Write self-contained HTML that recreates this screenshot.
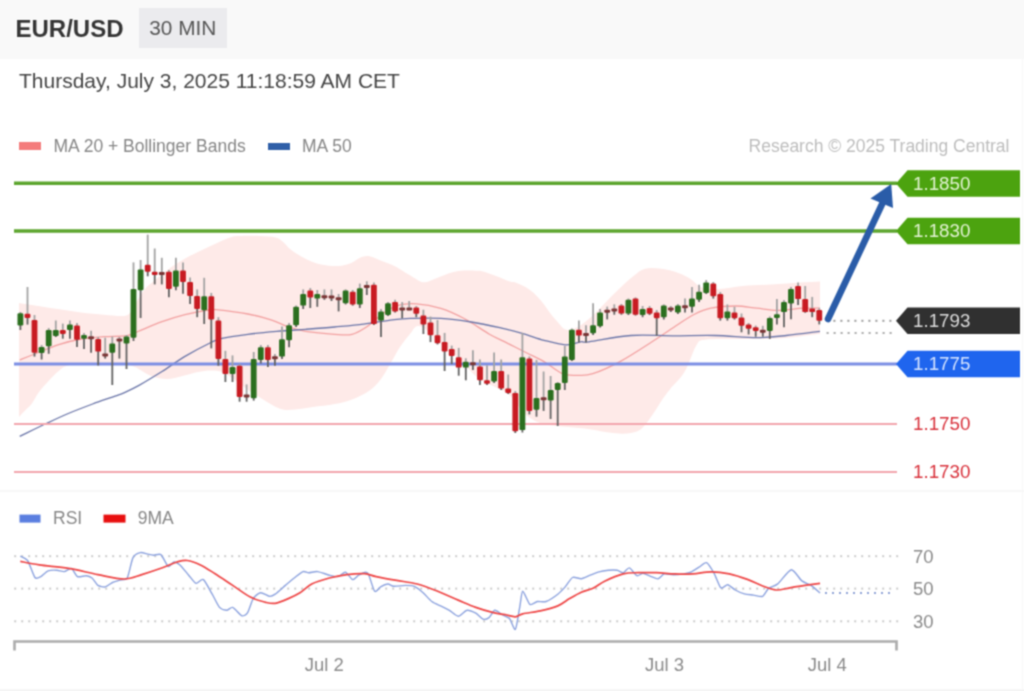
<!DOCTYPE html>
<html><head><meta charset="utf-8"><title>EUR/USD 30 MIN</title>
<style>
html,body{margin:0;padding:0;background:#fff;width:1024px;height:691px;overflow:hidden;position:relative}
.hdr{position:absolute;left:0;top:0;width:1024px;height:59px;background:#f9f9f9}
</style></head><body>
<div class="hdr"></div>

<svg width="1024" height="691" viewBox="0 0 1024 691" style="position:absolute;left:0;top:0">
<defs><filter id="bl" x="0" y="0" width="1" height="1" color-interpolation-filters="sRGB"><feConvolveMatrix order="3" kernelMatrix="0.0484 0.1232 0.0484 0.1232 0.3136 0.1232 0.0484 0.1232 0.0484" edgeMode="duplicate" preserveAlpha="true"/></filter><style>
text{font-family:"Liberation Sans",Arial,sans-serif}
.lab{font-size:18.8px}
.leg{font-size:17.5px;fill:#868686}
.ax{font-size:18.5px;fill:#8a8a8a}
</style></defs><g filter="url(#bl)"><rect x="0" y="0" width="1024" height="59" fill="#f9f9f9"/><rect x="0" y="59" width="1024" height="632" fill="#fff"/>
<text x="15.5" y="36.8" style="font-size:24px;font-weight:bold" fill="#353535">EUR/USD</text>
<rect x="139" y="8" width="88" height="40" fill="#ebebee"/>
<text x="149.3" y="35.4" style="font-size:20.8px" fill="#565656">30 MIN</text>
<text x="19" y="87.5" style="font-size:21px" fill="#454545">Thursday, July 3, 2025 11:18:59 AM CET</text>
<rect x="19" y="142" width="22" height="8" fill="#f47c7c"/>
<text x="53.5" y="152" class="leg">MA 20 + Bollinger Bands</text>
<rect x="268" y="143" width="22" height="7" fill="#2f5fa8"/>
<text x="302" y="152" class="leg">MA 50</text>
<text x="1009.5" y="152" class="leg" text-anchor="end" style="fill:#bdbdbd">Research © 2025 Trading Central</text>

<path d="M19.0,303.0 C21.6,303.4 28.2,304.5 34.7,305.5 C41.2,306.5 50.2,307.9 57.9,309.0 C65.6,310.1 73.3,311.4 81.0,312.4 C88.7,313.3 97.0,314.1 104.0,314.7 C111.0,315.3 118.4,316.3 122.7,316.0 C127.0,315.7 127.6,315.5 130.0,313.0 C132.4,310.5 134.5,305.0 137.0,301.0 C139.5,297.0 142.0,292.5 145.0,289.0 C148.0,285.5 150.8,283.5 155.0,280.0 C159.2,276.5 164.8,271.7 170.0,268.0 C175.2,264.3 181.0,260.8 186.0,258.0 C191.0,255.2 195.2,253.3 200.0,251.0 C204.8,248.7 209.7,246.3 215.0,244.0 C220.3,241.7 227.1,238.3 231.6,237.0 C236.1,235.7 237.4,236.2 242.0,236.0 C246.6,235.8 253.8,235.8 259.4,236.0 C265.0,236.2 271.6,236.5 275.6,237.5 C279.6,238.5 280.8,240.1 283.4,242.2 C286.0,244.3 287.4,247.1 291.3,250.0 C295.2,252.9 301.7,256.9 306.9,259.4 C312.1,261.9 317.3,263.7 322.5,264.8 C327.7,265.9 333.4,266.2 338.1,266.0 C342.8,265.8 347.0,264.7 350.6,263.3 C354.2,261.9 356.9,259.0 360.0,257.8 C363.1,256.6 365.8,255.7 369.4,256.2 C373.0,256.8 377.7,259.4 381.9,261.0 C386.1,262.6 391.3,264.6 394.4,266.0 C397.5,267.4 397.6,267.8 400.3,269.4 C403.0,271.0 407.0,273.5 410.4,275.5 C413.8,277.5 417.8,280.4 420.5,281.5 C423.2,282.6 424.1,282.5 426.6,282.0 C429.1,281.5 432.5,279.8 435.7,278.5 C438.9,277.2 442.5,275.6 445.9,274.4 C449.3,273.2 452.6,272.0 456.0,271.4 C459.4,270.8 462.5,270.7 466.0,270.6 C469.5,270.5 474.2,270.7 477.0,270.8 C479.8,270.9 479.8,270.6 483.0,271.5 C486.2,272.4 491.7,274.4 496.0,276.0 C500.3,277.6 505.7,280.1 509.0,281.2 C512.3,282.4 512.3,281.3 515.6,282.6 C518.9,283.9 524.9,286.6 528.6,289.0 C532.3,291.4 535.1,294.3 537.7,296.9 C540.3,299.5 542.0,301.9 544.2,304.7 C546.4,307.5 548.3,310.8 550.7,313.8 C553.1,316.9 556.0,320.4 558.5,323.0 C561.0,325.6 562.6,328.7 565.5,329.5 C568.4,330.3 571.5,329.9 575.6,328.0 C579.7,326.1 585.2,322.0 590.0,317.9 C594.8,313.8 599.8,308.2 604.6,303.4 C609.4,298.6 614.2,293.6 619.0,289.0 C623.8,284.4 629.2,279.4 633.5,276.0 C637.8,272.6 640.3,269.9 645.0,268.7 C649.7,267.5 655.9,268.1 661.6,268.8 C667.3,269.6 674.2,271.5 679.0,273.2 C683.8,274.9 686.7,276.6 690.5,279.0 C694.3,281.4 697.2,285.9 702.0,287.6 C706.8,289.3 712.6,289.3 719.4,289.0 C726.2,288.7 733.9,286.8 742.6,286.0 C751.3,285.2 761.9,285.1 771.5,284.5 C781.1,283.9 792.4,283.0 800.5,282.5 C808.6,282.0 816.8,281.7 820.0,281.5 L820.0,334.0 C819.6,334.0 824.6,333.2 817.9,334.0 C811.2,334.8 793.0,337.7 780.0,338.5 C767.0,339.3 752.5,338.8 740.0,339.0 C727.5,339.2 712.3,338.6 705.0,339.7 C697.7,340.8 699.7,340.2 696.3,345.5 C692.9,350.8 689.1,364.4 684.7,371.6 C680.4,378.9 674.0,384.3 670.2,389.0 C666.4,393.7 664.9,395.8 662.0,400.0 C659.1,404.2 656.6,409.1 653.0,414.0 C649.4,418.9 645.3,426.1 640.6,429.4 C635.9,432.6 630.2,433.0 625.0,433.5 C619.8,434.0 616.1,433.3 609.4,432.5 C602.7,431.7 592.8,429.5 585.0,428.5 C577.2,427.5 570.0,427.4 562.5,426.5 C555.0,425.6 546.2,425.1 540.0,423.0 C533.8,420.9 529.2,417.7 525.0,414.0 C520.8,410.3 518.0,404.5 515.0,401.0 C512.0,397.5 510.5,395.5 506.8,393.0 C503.1,390.5 497.9,388.6 493.0,386.0 C488.1,383.4 483.1,382.0 477.3,377.3 C471.5,372.6 464.6,364.4 458.0,358.0 C451.4,351.6 443.9,344.3 437.4,339.0 C430.9,333.7 423.6,326.8 419.0,326.0 C414.4,325.2 413.2,330.5 410.0,334.0 C406.8,337.5 402.9,342.7 400.0,347.0 C397.1,351.3 395.7,354.7 392.5,360.0 C389.3,365.3 384.9,373.9 381.0,379.0 C377.1,384.1 374.1,387.3 369.3,390.7 C364.5,394.1 357.8,397.2 352.0,399.4 C346.2,401.6 341.1,402.7 334.6,404.0 C328.1,405.3 319.4,406.1 312.8,407.0 C306.2,407.9 300.5,409.2 295.0,409.5 C289.5,409.8 285.7,410.6 280.0,408.7 C274.3,406.8 265.9,401.1 260.6,398.0 C255.3,394.9 252.3,393.0 248.0,390.0 C243.7,387.0 239.3,383.0 235.0,380.0 C230.7,377.0 226.1,373.6 222.0,372.0 C217.9,370.4 214.6,370.5 210.6,370.5 C206.6,370.5 202.7,371.1 198.0,372.0 C193.3,372.9 187.7,374.8 182.5,376.0 C177.3,377.2 172.2,379.0 167.0,379.0 C161.8,379.0 156.2,377.9 151.0,376.0 C145.8,374.1 139.6,369.2 135.6,367.3 C131.6,365.4 130.3,365.1 127.0,364.5 C123.7,363.9 119.6,363.6 115.8,363.4 C112.0,363.1 107.9,363.0 104.0,363.0 C100.1,363.0 97.4,363.2 92.6,363.4 C87.8,363.6 79.6,363.7 75.0,364.2 C70.4,364.7 67.9,365.2 65.0,366.5 C62.1,367.8 60.5,369.5 57.8,371.8 C55.1,374.1 52.1,377.1 49.0,380.5 C45.9,383.9 41.9,388.1 39.0,392.0 C36.1,395.9 34.0,400.7 31.7,403.7 C29.4,406.7 27.6,407.8 25.5,410.0 C23.4,412.2 20.1,415.8 19.0,417.0 Z" fill="#feeae8"/>
<path d="M19.7,360.0 C22.2,359.0 28.3,356.5 34.7,354.0 C41.1,351.5 50.2,347.3 57.9,344.8 C65.6,342.3 73.3,340.4 81.0,339.0 C88.7,337.6 96.3,337.3 104.0,336.7 C111.7,336.1 121.2,336.6 127.0,335.6 C132.8,334.7 133.2,333.3 139.0,331.0 C144.8,328.7 154.3,324.4 162.0,321.7 C169.7,319.0 177.3,316.6 185.0,314.7 C192.7,312.8 203.2,310.8 208.4,310.0 C213.6,309.2 209.4,309.0 216.0,309.7 C222.6,310.4 238.7,312.3 247.9,314.0 C257.1,315.7 264.2,317.6 271.0,319.8 C277.8,322.0 282.6,325.1 288.4,327.0 C294.2,328.9 298.0,330.2 305.7,331.4 C313.4,332.6 326.9,333.8 334.6,334.3 C342.3,334.8 346.7,335.5 352.0,334.3 C357.3,333.1 362.7,329.4 366.5,327.0 C370.3,324.6 371.9,322.3 375.0,319.8 C378.1,317.3 381.1,314.4 385.0,312.0 C388.9,309.6 392.9,306.7 398.2,305.3 C403.4,303.9 409.4,303.3 416.5,303.8 C423.6,304.3 432.7,305.9 440.8,308.4 C448.9,310.9 456.9,314.7 465.0,319.0 C473.1,323.3 482.3,330.1 489.4,334.2 C496.5,338.2 501.6,340.2 507.7,343.3 C513.8,346.4 519.9,349.4 525.9,352.5 C531.9,355.6 537.9,358.1 544.0,361.6 C550.1,365.1 556.8,371.4 562.4,373.7 C568.0,376.0 572.5,375.3 577.6,375.3 C582.7,375.3 585.7,376.0 592.8,373.7 C599.9,371.4 610.1,366.9 620.0,361.6 C629.9,356.3 642.5,347.9 652.0,341.8 C661.5,335.7 670.2,329.6 677.2,325.0 C684.2,320.4 688.4,317.3 694.0,314.5 C699.6,311.7 703.8,309.6 710.8,308.2 C717.8,306.8 728.3,306.0 736.0,306.0 C743.7,306.0 750.0,307.5 757.0,308.2 C764.0,308.9 770.3,310.3 778.0,310.3 C785.7,310.3 796.2,308.6 803.2,308.2 C810.2,307.8 817.2,308.2 820.0,308.2" fill="none" stroke="#f2a0a0" stroke-width="1.3"/>
<path d="M19.7,436.3 C24.1,434.2 38.0,427.4 46.3,423.5 C54.6,419.6 61.8,416.2 69.5,413.0 C77.2,409.8 84.9,406.9 92.6,404.0 C100.3,401.1 110.4,397.8 115.8,395.8 C121.2,393.9 121.1,394.0 125.0,392.3 C128.9,390.6 132.8,388.9 139.0,385.4 C145.2,381.9 154.3,376.3 162.0,371.5 C169.7,366.7 177.0,361.1 185.0,356.4 C193.0,351.6 203.8,346.0 210.0,343.0 C216.2,340.0 215.7,339.8 222.0,338.3 C228.3,336.9 238.8,335.5 247.9,334.3 C257.0,333.1 267.2,332.2 276.8,331.4 C286.4,330.6 296.1,330.0 305.7,329.3 C315.3,328.6 325.0,327.9 334.6,327.0 C344.2,326.1 354.0,325.3 363.6,324.1 C373.2,322.9 384.7,320.8 392.5,319.8 C400.3,318.9 402.3,318.6 410.4,318.4 C418.4,318.2 430.7,317.8 440.8,318.4 C450.9,319.0 461.1,320.4 471.2,322.0 C481.3,323.6 493.0,326.2 501.6,328.1 C510.2,330.0 515.8,331.6 522.9,333.6 C530.0,335.6 536.9,338.4 544.0,340.3 C551.1,342.2 559.3,344.6 565.4,344.9 C571.5,345.1 576.7,342.3 580.6,341.8 C584.5,341.3 580.6,342.9 589.0,341.8 C597.4,340.8 617.0,336.5 631.0,335.5 C645.0,334.5 659.0,335.8 673.0,335.8 C687.0,335.8 701.0,335.2 715.0,335.5 C729.0,335.8 745.1,337.6 757.0,337.6 C768.9,337.6 775.9,336.6 786.4,335.5 C796.9,334.4 814.4,332.0 820.0,331.3" fill="none" stroke="#6a75a8" stroke-width="1.3"/>

<line x1="14" y1="183.3" x2="897" y2="183.3" stroke="#5ca52e" stroke-width="3.4"/>
<line x1="14" y1="231" x2="897" y2="231" stroke="#5ca52e" stroke-width="3.4"/>
<line x1="14" y1="364" x2="897" y2="364" stroke="#7a8de4" stroke-width="2.9"/>
<line x1="14" y1="424" x2="897" y2="424" stroke="#f2a5ad" stroke-width="2"/>
<line x1="14" y1="472" x2="897" y2="472" stroke="#f2a5ad" stroke-width="2"/>

<line x1="20.4" y1="312.0" x2="20.4" y2="319.4" stroke="#a2a2a2" stroke-width="1.8"/>
<line x1="20.4" y1="319.4" x2="20.4" y2="330.0" stroke="#616161" stroke-width="1.8"/>
<rect x="17.5" y="313.3" width="5.8" height="12.2" fill="#2b6f1f" rx="1.2"/>
<line x1="27.5" y1="287.0" x2="27.5" y2="315.9" stroke="#a2a2a2" stroke-width="1.8"/>
<line x1="27.5" y1="315.9" x2="27.5" y2="324.6" stroke="#616161" stroke-width="1.8"/>
<rect x="24.6" y="313.7" width="5.8" height="4.3" fill="#c81b22" rx="1.2"/>
<line x1="34.5" y1="315.0" x2="34.5" y2="336.4" stroke="#a2a2a2" stroke-width="1.8"/>
<line x1="34.5" y1="336.4" x2="34.5" y2="356.6" stroke="#616161" stroke-width="1.8"/>
<rect x="31.6" y="320.0" width="5.8" height="32.8" fill="#c81b22" rx="1.2"/>
<line x1="41.6" y1="345.0" x2="41.6" y2="350.0" stroke="#a2a2a2" stroke-width="1.8"/>
<line x1="41.6" y1="350.0" x2="41.6" y2="359.5" stroke="#616161" stroke-width="1.8"/>
<rect x="38.7" y="347.0" width="5.8" height="6.0" fill="#2b6f1f" rx="1.2"/>
<line x1="48.7" y1="328.0" x2="48.7" y2="338.1" stroke="#a2a2a2" stroke-width="1.8"/>
<line x1="48.7" y1="338.1" x2="48.7" y2="353.8" stroke="#616161" stroke-width="1.8"/>
<rect x="45.8" y="330.0" width="5.8" height="16.3" fill="#2b6f1f" rx="1.2"/>
<line x1="55.8" y1="320.5" x2="55.8" y2="333.0" stroke="#a2a2a2" stroke-width="1.8"/>
<line x1="55.8" y1="333.0" x2="55.8" y2="337.0" stroke="#616161" stroke-width="1.8"/>
<rect x="52.9" y="330.0" width="5.8" height="6.0" fill="#2b6f1f" rx="1.2"/>
<line x1="62.8" y1="323.6" x2="62.8" y2="332.0" stroke="#a2a2a2" stroke-width="1.8"/>
<line x1="62.8" y1="332.0" x2="62.8" y2="338.7" stroke="#616161" stroke-width="1.8"/>
<rect x="59.9" y="330.0" width="5.8" height="4.0" fill="#c81b22" rx="1.2"/>
<line x1="69.9" y1="320.5" x2="69.9" y2="327.3" stroke="#a2a2a2" stroke-width="1.8"/>
<line x1="69.9" y1="327.3" x2="69.9" y2="338.7" stroke="#616161" stroke-width="1.8"/>
<rect x="67.0" y="324.6" width="5.8" height="5.4" fill="#2b6f1f" rx="1.2"/>
<line x1="77.0" y1="323.0" x2="77.0" y2="332.6" stroke="#a2a2a2" stroke-width="1.8"/>
<line x1="77.0" y1="332.6" x2="77.0" y2="347.0" stroke="#616161" stroke-width="1.8"/>
<rect x="74.1" y="325.5" width="5.8" height="14.2" fill="#c81b22" rx="1.2"/>
<line x1="84.0" y1="333.0" x2="84.0" y2="336.9" stroke="#a2a2a2" stroke-width="1.8"/>
<line x1="84.0" y1="336.9" x2="84.0" y2="349.0" stroke="#616161" stroke-width="1.8"/>
<rect x="81.1" y="335.0" width="5.8" height="3.7" fill="#2b6f1f" rx="1.2"/>
<line x1="91.1" y1="330.8" x2="91.1" y2="337.8" stroke="#a2a2a2" stroke-width="1.8"/>
<line x1="91.1" y1="337.8" x2="91.1" y2="352.8" stroke="#616161" stroke-width="1.8"/>
<rect x="88.2" y="336.3" width="5.8" height="3.0" fill="#7a3434" rx="1"/>
<line x1="98.2" y1="337.0" x2="98.2" y2="345.2" stroke="#a2a2a2" stroke-width="1.8"/>
<line x1="98.2" y1="345.2" x2="98.2" y2="365.5" stroke="#616161" stroke-width="1.8"/>
<rect x="95.3" y="338.9" width="5.8" height="12.7" fill="#c81b22" rx="1.2"/>
<line x1="105.2" y1="337.7" x2="105.2" y2="355.0" stroke="#a2a2a2" stroke-width="1.8"/>
<line x1="105.2" y1="355.0" x2="105.2" y2="358.6" stroke="#616161" stroke-width="1.8"/>
<rect x="102.3" y="353.5" width="5.8" height="3.0" fill="#7a3434" rx="1"/>
<line x1="112.3" y1="336.6" x2="112.3" y2="348.1" stroke="#a2a2a2" stroke-width="1.8"/>
<line x1="112.3" y1="348.1" x2="112.3" y2="385.0" stroke="#616161" stroke-width="1.8"/>
<rect x="109.4" y="343.5" width="5.8" height="9.3" fill="#2b6f1f" rx="1.2"/>
<line x1="119.4" y1="337.0" x2="119.4" y2="339.9" stroke="#a2a2a2" stroke-width="1.8"/>
<line x1="119.4" y1="339.9" x2="119.4" y2="358.6" stroke="#616161" stroke-width="1.8"/>
<rect x="116.5" y="338.4" width="5.8" height="3.0" fill="#7a3434" rx="1"/>
<line x1="126.5" y1="335.0" x2="126.5" y2="340.1" stroke="#a2a2a2" stroke-width="1.8"/>
<line x1="126.5" y1="340.1" x2="126.5" y2="369.0" stroke="#616161" stroke-width="1.8"/>
<rect x="123.6" y="336.6" width="5.8" height="6.9" fill="#2b6f1f" rx="1.2"/>
<line x1="133.5" y1="262.4" x2="133.5" y2="313.4" stroke="#a2a2a2" stroke-width="1.8"/>
<line x1="133.5" y1="313.4" x2="133.5" y2="341.0" stroke="#616161" stroke-width="1.8"/>
<rect x="130.6" y="289.0" width="5.8" height="48.7" fill="#2b6f1f" rx="1.2"/>
<line x1="140.6" y1="260.0" x2="140.6" y2="279.8" stroke="#a2a2a2" stroke-width="1.8"/>
<line x1="140.6" y1="279.8" x2="140.6" y2="318.0" stroke="#616161" stroke-width="1.8"/>
<rect x="137.7" y="269.4" width="5.8" height="20.8" fill="#2b6f1f" rx="1.2"/>
<line x1="147.7" y1="234.6" x2="147.7" y2="268.2" stroke="#a2a2a2" stroke-width="1.8"/>
<line x1="147.7" y1="268.2" x2="147.7" y2="276.3" stroke="#616161" stroke-width="1.8"/>
<rect x="144.8" y="264.7" width="5.8" height="7.0" fill="#c81b22" rx="1.2"/>
<line x1="154.7" y1="248.5" x2="154.7" y2="273.4" stroke="#a2a2a2" stroke-width="1.8"/>
<line x1="154.7" y1="273.4" x2="154.7" y2="284.4" stroke="#616161" stroke-width="1.8"/>
<rect x="151.8" y="271.7" width="5.8" height="3.3" fill="#c81b22" rx="1.2"/>
<line x1="161.8" y1="257.8" x2="161.8" y2="273.4" stroke="#a2a2a2" stroke-width="1.8"/>
<line x1="161.8" y1="273.4" x2="161.8" y2="284.4" stroke="#616161" stroke-width="1.8"/>
<rect x="158.9" y="271.9" width="5.8" height="3.0" fill="#7a3434" rx="1"/>
<line x1="168.9" y1="270.0" x2="168.9" y2="280.4" stroke="#a2a2a2" stroke-width="1.8"/>
<line x1="168.9" y1="280.4" x2="168.9" y2="297.2" stroke="#616161" stroke-width="1.8"/>
<rect x="166.0" y="271.7" width="5.8" height="17.3" fill="#c81b22" rx="1.2"/>
<line x1="175.9" y1="257.8" x2="175.9" y2="278.6" stroke="#a2a2a2" stroke-width="1.8"/>
<line x1="175.9" y1="278.6" x2="175.9" y2="290.2" stroke="#616161" stroke-width="1.8"/>
<rect x="173.0" y="270.5" width="5.8" height="16.3" fill="#2b6f1f" rx="1.2"/>
<line x1="183.0" y1="262.4" x2="183.0" y2="276.2" stroke="#a2a2a2" stroke-width="1.8"/>
<line x1="183.0" y1="276.2" x2="183.0" y2="293.7" stroke="#616161" stroke-width="1.8"/>
<rect x="180.1" y="270.5" width="5.8" height="11.5" fill="#c81b22" rx="1.2"/>
<line x1="190.1" y1="277.5" x2="190.1" y2="289.0" stroke="#a2a2a2" stroke-width="1.8"/>
<line x1="190.1" y1="289.0" x2="190.1" y2="304.0" stroke="#616161" stroke-width="1.8"/>
<rect x="187.2" y="282.0" width="5.8" height="14.0" fill="#c81b22" rx="1.2"/>
<line x1="197.2" y1="289.4" x2="197.2" y2="302.5" stroke="#a2a2a2" stroke-width="1.8"/>
<line x1="197.2" y1="302.5" x2="197.2" y2="317.2" stroke="#616161" stroke-width="1.8"/>
<rect x="194.2" y="296.0" width="5.8" height="13.0" fill="#c81b22" rx="1.2"/>
<line x1="204.2" y1="277.8" x2="204.2" y2="303.2" stroke="#a2a2a2" stroke-width="1.8"/>
<line x1="204.2" y1="303.2" x2="204.2" y2="324.0" stroke="#616161" stroke-width="1.8"/>
<rect x="201.3" y="296.3" width="5.8" height="13.9" fill="#2b6f1f" rx="1.2"/>
<line x1="211.3" y1="292.9" x2="211.3" y2="307.9" stroke="#a2a2a2" stroke-width="1.8"/>
<line x1="211.3" y1="307.9" x2="211.3" y2="348.4" stroke="#616161" stroke-width="1.8"/>
<rect x="208.4" y="296.3" width="5.8" height="23.2" fill="#c81b22" rx="1.2"/>
<line x1="218.4" y1="317.2" x2="218.4" y2="339.8" stroke="#a2a2a2" stroke-width="1.8"/>
<line x1="218.4" y1="339.8" x2="218.4" y2="365.8" stroke="#616161" stroke-width="1.8"/>
<rect x="215.5" y="320.6" width="5.8" height="38.3" fill="#c81b22" rx="1.2"/>
<line x1="225.4" y1="350.8" x2="225.4" y2="366.4" stroke="#a2a2a2" stroke-width="1.8"/>
<line x1="225.4" y1="366.4" x2="225.4" y2="382.0" stroke="#616161" stroke-width="1.8"/>
<rect x="222.5" y="358.9" width="5.8" height="15.1" fill="#c81b22" rx="1.2"/>
<line x1="232.5" y1="355.4" x2="232.5" y2="370.5" stroke="#a2a2a2" stroke-width="1.8"/>
<line x1="232.5" y1="370.5" x2="232.5" y2="382.0" stroke="#616161" stroke-width="1.8"/>
<rect x="229.6" y="367.0" width="5.8" height="7.0" fill="#2b6f1f" rx="1.2"/>
<line x1="239.6" y1="364.0" x2="239.6" y2="381.4" stroke="#a2a2a2" stroke-width="1.8"/>
<line x1="239.6" y1="381.4" x2="239.6" y2="401.7" stroke="#616161" stroke-width="1.8"/>
<rect x="236.7" y="365.8" width="5.8" height="31.2" fill="#c81b22" rx="1.2"/>
<line x1="246.6" y1="384.4" x2="246.6" y2="396.0" stroke="#a2a2a2" stroke-width="1.8"/>
<line x1="246.6" y1="396.0" x2="246.6" y2="401.7" stroke="#616161" stroke-width="1.8"/>
<rect x="243.7" y="394.5" width="5.8" height="3.0" fill="#7a3434" rx="1"/>
<line x1="253.7" y1="352.0" x2="253.7" y2="378.6" stroke="#a2a2a2" stroke-width="1.8"/>
<line x1="253.7" y1="378.6" x2="253.7" y2="400.6" stroke="#616161" stroke-width="1.8"/>
<rect x="250.8" y="358.9" width="5.8" height="39.4" fill="#2b6f1f" rx="1.2"/>
<line x1="260.8" y1="345.0" x2="260.8" y2="353.6" stroke="#a2a2a2" stroke-width="1.8"/>
<line x1="260.8" y1="353.6" x2="260.8" y2="363.5" stroke="#616161" stroke-width="1.8"/>
<rect x="257.9" y="347.3" width="5.8" height="12.7" fill="#2b6f1f" rx="1.2"/>
<line x1="267.9" y1="345.0" x2="267.9" y2="353.6" stroke="#a2a2a2" stroke-width="1.8"/>
<line x1="267.9" y1="353.6" x2="267.9" y2="367.0" stroke="#616161" stroke-width="1.8"/>
<rect x="265.0" y="347.3" width="5.8" height="12.7" fill="#c81b22" rx="1.2"/>
<line x1="274.9" y1="354.0" x2="274.9" y2="357.8" stroke="#a2a2a2" stroke-width="1.8"/>
<line x1="274.9" y1="357.8" x2="274.9" y2="365.8" stroke="#616161" stroke-width="1.8"/>
<rect x="272.0" y="356.2" width="5.8" height="3.0" fill="#7a3434" rx="1"/>
<line x1="282.0" y1="326.4" x2="282.0" y2="347.9" stroke="#a2a2a2" stroke-width="1.8"/>
<line x1="282.0" y1="347.9" x2="282.0" y2="358.9" stroke="#616161" stroke-width="1.8"/>
<rect x="279.1" y="339.2" width="5.8" height="17.4" fill="#2b6f1f" rx="1.2"/>
<line x1="289.1" y1="323.0" x2="289.1" y2="332.8" stroke="#a2a2a2" stroke-width="1.8"/>
<line x1="289.1" y1="332.8" x2="289.1" y2="347.3" stroke="#616161" stroke-width="1.8"/>
<rect x="286.2" y="325.3" width="5.8" height="15.0" fill="#2b6f1f" rx="1.2"/>
<line x1="296.1" y1="305.6" x2="296.1" y2="316.1" stroke="#a2a2a2" stroke-width="1.8"/>
<line x1="296.1" y1="316.1" x2="296.1" y2="327.0" stroke="#616161" stroke-width="1.8"/>
<rect x="293.2" y="306.8" width="5.8" height="18.5" fill="#2b6f1f" rx="1.2"/>
<line x1="303.2" y1="289.4" x2="303.2" y2="299.8" stroke="#a2a2a2" stroke-width="1.8"/>
<line x1="303.2" y1="299.8" x2="303.2" y2="309.0" stroke="#616161" stroke-width="1.8"/>
<rect x="300.3" y="294.0" width="5.8" height="11.6" fill="#2b6f1f" rx="1.2"/>
<line x1="310.3" y1="288.0" x2="310.3" y2="294.0" stroke="#a2a2a2" stroke-width="1.8"/>
<line x1="310.3" y1="294.0" x2="310.3" y2="308.0" stroke="#616161" stroke-width="1.8"/>
<rect x="307.4" y="290.5" width="5.8" height="7.0" fill="#c81b22" rx="1.2"/>
<line x1="317.3" y1="290.0" x2="317.3" y2="296.3" stroke="#a2a2a2" stroke-width="1.8"/>
<line x1="317.3" y1="296.3" x2="317.3" y2="306.8" stroke="#616161" stroke-width="1.8"/>
<rect x="314.4" y="294.0" width="5.8" height="4.6" fill="#2b6f1f" rx="1.2"/>
<line x1="324.4" y1="289.4" x2="324.4" y2="296.8" stroke="#a2a2a2" stroke-width="1.8"/>
<line x1="324.4" y1="296.8" x2="324.4" y2="299.8" stroke="#616161" stroke-width="1.8"/>
<rect x="321.5" y="295.3" width="5.8" height="3.0" fill="#7a3434" rx="1"/>
<line x1="331.5" y1="289.4" x2="331.5" y2="297.0" stroke="#a2a2a2" stroke-width="1.8"/>
<line x1="331.5" y1="297.0" x2="331.5" y2="301.0" stroke="#616161" stroke-width="1.8"/>
<rect x="328.6" y="295.5" width="5.8" height="3.0" fill="#7a3434" rx="1"/>
<line x1="338.6" y1="294.0" x2="338.6" y2="298.8" stroke="#a2a2a2" stroke-width="1.8"/>
<line x1="338.6" y1="298.8" x2="338.6" y2="311.4" stroke="#616161" stroke-width="1.8"/>
<rect x="335.7" y="297.2" width="5.8" height="3.0" fill="#7a3434" rx="1"/>
<line x1="345.6" y1="289.4" x2="345.6" y2="296.9" stroke="#a2a2a2" stroke-width="1.8"/>
<line x1="345.6" y1="296.9" x2="345.6" y2="304.4" stroke="#616161" stroke-width="1.8"/>
<rect x="342.7" y="290.5" width="5.8" height="12.8" fill="#2b6f1f" rx="1.2"/>
<line x1="352.7" y1="290.0" x2="352.7" y2="298.0" stroke="#a2a2a2" stroke-width="1.8"/>
<line x1="352.7" y1="298.0" x2="352.7" y2="305.6" stroke="#616161" stroke-width="1.8"/>
<rect x="349.8" y="291.7" width="5.8" height="12.7" fill="#c81b22" rx="1.2"/>
<line x1="359.8" y1="283.6" x2="359.8" y2="296.3" stroke="#a2a2a2" stroke-width="1.8"/>
<line x1="359.8" y1="296.3" x2="359.8" y2="308.0" stroke="#616161" stroke-width="1.8"/>
<rect x="356.9" y="288.2" width="5.8" height="16.2" fill="#2b6f1f" rx="1.2"/>
<line x1="366.8" y1="281.3" x2="366.8" y2="286.4" stroke="#a2a2a2" stroke-width="1.8"/>
<line x1="366.8" y1="286.4" x2="366.8" y2="295.0" stroke="#616161" stroke-width="1.8"/>
<rect x="363.9" y="284.9" width="5.8" height="3.0" fill="#7a3434" rx="1"/>
<line x1="373.9" y1="282.4" x2="373.9" y2="304.4" stroke="#a2a2a2" stroke-width="1.8"/>
<line x1="373.9" y1="304.4" x2="373.9" y2="325.0" stroke="#616161" stroke-width="1.8"/>
<rect x="371.0" y="284.7" width="5.8" height="39.4" fill="#c81b22" rx="1.2"/>
<line x1="381.0" y1="309.0" x2="381.0" y2="316.0" stroke="#a2a2a2" stroke-width="1.8"/>
<line x1="381.0" y1="316.0" x2="381.0" y2="336.9" stroke="#616161" stroke-width="1.8"/>
<rect x="378.1" y="311.4" width="5.8" height="9.2" fill="#2b6f1f" rx="1.2"/>
<line x1="388.0" y1="302.1" x2="388.0" y2="309.1" stroke="#a2a2a2" stroke-width="1.8"/>
<line x1="388.0" y1="309.1" x2="388.0" y2="316.0" stroke="#616161" stroke-width="1.8"/>
<rect x="385.1" y="303.3" width="5.8" height="11.6" fill="#2b6f1f" rx="1.2"/>
<line x1="395.1" y1="299.8" x2="395.1" y2="306.8" stroke="#a2a2a2" stroke-width="1.8"/>
<line x1="395.1" y1="306.8" x2="395.1" y2="312.5" stroke="#616161" stroke-width="1.8"/>
<rect x="392.2" y="302.1" width="5.8" height="9.3" fill="#c81b22" rx="1.2"/>
<line x1="402.2" y1="302.1" x2="402.2" y2="309.0" stroke="#a2a2a2" stroke-width="1.8"/>
<line x1="402.2" y1="309.0" x2="402.2" y2="318.3" stroke="#616161" stroke-width="1.8"/>
<rect x="399.3" y="307.5" width="5.8" height="3.0" fill="#7a3434" rx="1"/>
<line x1="409.2" y1="301.0" x2="409.2" y2="308.9" stroke="#a2a2a2" stroke-width="1.8"/>
<line x1="409.2" y1="308.9" x2="409.2" y2="310.2" stroke="#616161" stroke-width="1.8"/>
<rect x="406.4" y="307.4" width="5.8" height="3.0" fill="#7a3434" rx="1"/>
<line x1="416.3" y1="306.0" x2="416.3" y2="310.6" stroke="#a2a2a2" stroke-width="1.8"/>
<line x1="416.3" y1="310.6" x2="416.3" y2="317.2" stroke="#616161" stroke-width="1.8"/>
<rect x="413.4" y="307.6" width="5.8" height="6.1" fill="#c81b22" rx="1.2"/>
<line x1="423.4" y1="309.7" x2="423.4" y2="320.0" stroke="#a2a2a2" stroke-width="1.8"/>
<line x1="423.4" y1="320.0" x2="423.4" y2="334.0" stroke="#616161" stroke-width="1.8"/>
<rect x="420.5" y="315.5" width="5.8" height="9.0" fill="#c81b22" rx="1.2"/>
<line x1="430.5" y1="316.6" x2="430.5" y2="328.8" stroke="#a2a2a2" stroke-width="1.8"/>
<line x1="430.5" y1="328.8" x2="430.5" y2="342.1" stroke="#616161" stroke-width="1.8"/>
<rect x="427.6" y="322.4" width="5.8" height="12.8" fill="#c81b22" rx="1.2"/>
<line x1="437.5" y1="320.0" x2="437.5" y2="339.2" stroke="#a2a2a2" stroke-width="1.8"/>
<line x1="437.5" y1="339.2" x2="437.5" y2="344.4" stroke="#616161" stroke-width="1.8"/>
<rect x="434.6" y="335.2" width="5.8" height="8.1" fill="#c81b22" rx="1.2"/>
<line x1="444.6" y1="332.9" x2="444.6" y2="346.8" stroke="#a2a2a2" stroke-width="1.8"/>
<line x1="444.6" y1="346.8" x2="444.6" y2="371.0" stroke="#616161" stroke-width="1.8"/>
<rect x="441.7" y="342.1" width="5.8" height="9.3" fill="#c81b22" rx="1.2"/>
<line x1="451.7" y1="345.6" x2="451.7" y2="352.5" stroke="#a2a2a2" stroke-width="1.8"/>
<line x1="451.7" y1="352.5" x2="451.7" y2="364.1" stroke="#616161" stroke-width="1.8"/>
<rect x="448.8" y="349.0" width="5.8" height="7.0" fill="#c81b22" rx="1.2"/>
<line x1="458.7" y1="347.9" x2="458.7" y2="362.4" stroke="#a2a2a2" stroke-width="1.8"/>
<line x1="458.7" y1="362.4" x2="458.7" y2="375.7" stroke="#616161" stroke-width="1.8"/>
<rect x="455.8" y="357.2" width="5.8" height="10.4" fill="#c81b22" rx="1.2"/>
<line x1="465.8" y1="358.3" x2="465.8" y2="364.7" stroke="#a2a2a2" stroke-width="1.8"/>
<line x1="465.8" y1="364.7" x2="465.8" y2="380.3" stroke="#616161" stroke-width="1.8"/>
<rect x="462.9" y="361.8" width="5.8" height="5.8" fill="#2b6f1f" rx="1.2"/>
<line x1="472.9" y1="350.2" x2="472.9" y2="363.7" stroke="#a2a2a2" stroke-width="1.8"/>
<line x1="472.9" y1="363.7" x2="472.9" y2="370.0" stroke="#616161" stroke-width="1.8"/>
<rect x="470.0" y="362.2" width="5.8" height="3.0" fill="#7a3434" rx="1"/>
<line x1="479.9" y1="359.5" x2="479.9" y2="373.4" stroke="#a2a2a2" stroke-width="1.8"/>
<line x1="479.9" y1="373.4" x2="479.9" y2="385.0" stroke="#616161" stroke-width="1.8"/>
<rect x="477.1" y="366.4" width="5.8" height="13.9" fill="#c81b22" rx="1.2"/>
<line x1="487.0" y1="365.3" x2="487.0" y2="382.1" stroke="#a2a2a2" stroke-width="1.8"/>
<line x1="487.0" y1="382.1" x2="487.0" y2="385.0" stroke="#616161" stroke-width="1.8"/>
<rect x="484.1" y="380.3" width="5.8" height="3.5" fill="#c81b22" rx="1.2"/>
<line x1="494.1" y1="352.5" x2="494.1" y2="376.2" stroke="#a2a2a2" stroke-width="1.8"/>
<line x1="494.1" y1="376.2" x2="494.1" y2="383.0" stroke="#616161" stroke-width="1.8"/>
<rect x="491.2" y="371.0" width="5.8" height="10.5" fill="#2b6f1f" rx="1.2"/>
<line x1="501.2" y1="359.5" x2="501.2" y2="379.7" stroke="#a2a2a2" stroke-width="1.8"/>
<line x1="501.2" y1="379.7" x2="501.2" y2="390.0" stroke="#616161" stroke-width="1.8"/>
<rect x="498.3" y="371.0" width="5.8" height="17.4" fill="#c81b22" rx="1.2"/>
<line x1="508.2" y1="374.5" x2="508.2" y2="390.7" stroke="#a2a2a2" stroke-width="1.8"/>
<line x1="508.2" y1="390.7" x2="508.2" y2="394.0" stroke="#616161" stroke-width="1.8"/>
<rect x="505.3" y="388.4" width="5.8" height="4.6" fill="#c81b22" rx="1.2"/>
<line x1="515.3" y1="391.0" x2="515.3" y2="412.1" stroke="#a2a2a2" stroke-width="1.8"/>
<line x1="515.3" y1="412.1" x2="515.3" y2="433.0" stroke="#616161" stroke-width="1.8"/>
<rect x="512.4" y="393.0" width="5.8" height="38.3" fill="#c81b22" rx="1.2"/>
<line x1="522.4" y1="332.9" x2="522.4" y2="393.6" stroke="#a2a2a2" stroke-width="1.8"/>
<line x1="522.4" y1="393.6" x2="522.4" y2="432.5" stroke="#616161" stroke-width="1.8"/>
<rect x="519.5" y="357.2" width="5.8" height="72.9" fill="#2b6f1f" rx="1.2"/>
<line x1="529.4" y1="356.4" x2="529.4" y2="384.8" stroke="#a2a2a2" stroke-width="1.8"/>
<line x1="529.4" y1="384.8" x2="529.4" y2="414.4" stroke="#616161" stroke-width="1.8"/>
<rect x="526.5" y="358.6" width="5.8" height="52.4" fill="#c81b22" rx="1.2"/>
<line x1="536.5" y1="359.9" x2="536.5" y2="403.9" stroke="#a2a2a2" stroke-width="1.8"/>
<line x1="536.5" y1="403.9" x2="536.5" y2="416.7" stroke="#616161" stroke-width="1.8"/>
<rect x="533.6" y="398.1" width="5.8" height="11.6" fill="#2b6f1f" rx="1.2"/>
<line x1="543.6" y1="371.5" x2="543.6" y2="398.8" stroke="#a2a2a2" stroke-width="1.8"/>
<line x1="543.6" y1="398.8" x2="543.6" y2="410.9" stroke="#616161" stroke-width="1.8"/>
<rect x="540.7" y="397.2" width="5.8" height="3.0" fill="#7a3434" rx="1"/>
<line x1="550.6" y1="376.0" x2="550.6" y2="395.2" stroke="#a2a2a2" stroke-width="1.8"/>
<line x1="550.6" y1="395.2" x2="550.6" y2="419.0" stroke="#616161" stroke-width="1.8"/>
<rect x="547.8" y="390.0" width="5.8" height="10.5" fill="#2b6f1f" rx="1.2"/>
<line x1="557.7" y1="382.0" x2="557.7" y2="386.5" stroke="#a2a2a2" stroke-width="1.8"/>
<line x1="557.7" y1="386.5" x2="557.7" y2="426.0" stroke="#616161" stroke-width="1.8"/>
<rect x="554.8" y="383.0" width="5.8" height="7.0" fill="#2b6f1f" rx="1.2"/>
<line x1="564.8" y1="346.0" x2="564.8" y2="369.7" stroke="#a2a2a2" stroke-width="1.8"/>
<line x1="564.8" y1="369.7" x2="564.8" y2="390.0" stroke="#616161" stroke-width="1.8"/>
<rect x="561.9" y="356.4" width="5.8" height="26.6" fill="#2b6f1f" rx="1.2"/>
<line x1="571.9" y1="328.6" x2="571.9" y2="344.9" stroke="#a2a2a2" stroke-width="1.8"/>
<line x1="571.9" y1="344.9" x2="571.9" y2="361.0" stroke="#616161" stroke-width="1.8"/>
<rect x="569.0" y="329.8" width="5.8" height="30.2" fill="#2b6f1f" rx="1.2"/>
<line x1="578.9" y1="320.5" x2="578.9" y2="332.7" stroke="#a2a2a2" stroke-width="1.8"/>
<line x1="578.9" y1="332.7" x2="578.9" y2="342.5" stroke="#616161" stroke-width="1.8"/>
<rect x="576.0" y="329.8" width="5.8" height="5.8" fill="#c81b22" rx="1.2"/>
<line x1="586.0" y1="325.2" x2="586.0" y2="334.5" stroke="#a2a2a2" stroke-width="1.8"/>
<line x1="586.0" y1="334.5" x2="586.0" y2="342.5" stroke="#616161" stroke-width="1.8"/>
<rect x="583.1" y="333.0" width="5.8" height="3.0" fill="#7a3434" rx="1"/>
<line x1="593.1" y1="303.2" x2="593.1" y2="329.2" stroke="#a2a2a2" stroke-width="1.8"/>
<line x1="593.1" y1="329.2" x2="593.1" y2="335.0" stroke="#616161" stroke-width="1.8"/>
<rect x="590.2" y="325.2" width="5.8" height="8.1" fill="#2b6f1f" rx="1.2"/>
<line x1="600.1" y1="309.0" x2="600.1" y2="319.4" stroke="#a2a2a2" stroke-width="1.8"/>
<line x1="600.1" y1="319.4" x2="600.1" y2="327.5" stroke="#616161" stroke-width="1.8"/>
<rect x="597.2" y="312.4" width="5.8" height="13.9" fill="#2b6f1f" rx="1.2"/>
<line x1="607.2" y1="306.6" x2="607.2" y2="311.2" stroke="#a2a2a2" stroke-width="1.8"/>
<line x1="607.2" y1="311.2" x2="607.2" y2="319.4" stroke="#616161" stroke-width="1.8"/>
<rect x="604.3" y="309.7" width="5.8" height="3.0" fill="#7a3434" rx="1"/>
<line x1="614.3" y1="304.3" x2="614.3" y2="310.1" stroke="#a2a2a2" stroke-width="1.8"/>
<line x1="614.3" y1="310.1" x2="614.3" y2="314.7" stroke="#616161" stroke-width="1.8"/>
<rect x="611.4" y="308.6" width="5.8" height="3.0" fill="#7a3434" rx="1"/>
<line x1="621.4" y1="304.0" x2="621.4" y2="309.6" stroke="#a2a2a2" stroke-width="1.8"/>
<line x1="621.4" y1="309.6" x2="621.4" y2="314.7" stroke="#616161" stroke-width="1.8"/>
<rect x="618.5" y="305.5" width="5.8" height="8.1" fill="#c81b22" rx="1.2"/>
<line x1="628.4" y1="298.5" x2="628.4" y2="306.6" stroke="#a2a2a2" stroke-width="1.8"/>
<line x1="628.4" y1="306.6" x2="628.4" y2="315.0" stroke="#616161" stroke-width="1.8"/>
<rect x="625.5" y="299.7" width="5.8" height="13.9" fill="#2b6f1f" rx="1.2"/>
<line x1="635.5" y1="297.4" x2="635.5" y2="306.6" stroke="#a2a2a2" stroke-width="1.8"/>
<line x1="635.5" y1="306.6" x2="635.5" y2="315.5" stroke="#616161" stroke-width="1.8"/>
<rect x="632.6" y="298.5" width="5.8" height="16.2" fill="#c81b22" rx="1.2"/>
<line x1="642.6" y1="306.0" x2="642.6" y2="311.9" stroke="#a2a2a2" stroke-width="1.8"/>
<line x1="642.6" y1="311.9" x2="642.6" y2="317.2" stroke="#616161" stroke-width="1.8"/>
<rect x="639.7" y="309.0" width="5.8" height="5.9" fill="#2b6f1f" rx="1.2"/>
<line x1="649.6" y1="306.0" x2="649.6" y2="310.8" stroke="#a2a2a2" stroke-width="1.8"/>
<line x1="649.6" y1="310.8" x2="649.6" y2="315.0" stroke="#616161" stroke-width="1.8"/>
<rect x="646.7" y="307.9" width="5.8" height="5.8" fill="#c81b22" rx="1.2"/>
<line x1="656.7" y1="310.0" x2="656.7" y2="315.4" stroke="#a2a2a2" stroke-width="1.8"/>
<line x1="656.7" y1="315.4" x2="656.7" y2="335.7" stroke="#616161" stroke-width="1.8"/>
<rect x="653.8" y="312.5" width="5.8" height="5.8" fill="#c81b22" rx="1.2"/>
<line x1="663.8" y1="304.4" x2="663.8" y2="311.4" stroke="#a2a2a2" stroke-width="1.8"/>
<line x1="663.8" y1="311.4" x2="663.8" y2="319.5" stroke="#616161" stroke-width="1.8"/>
<rect x="660.9" y="305.6" width="5.8" height="11.6" fill="#2b6f1f" rx="1.2"/>
<line x1="670.8" y1="306.0" x2="670.8" y2="309.0" stroke="#a2a2a2" stroke-width="1.8"/>
<line x1="670.8" y1="309.0" x2="670.8" y2="312.0" stroke="#616161" stroke-width="1.8"/>
<rect x="667.9" y="307.5" width="5.8" height="3.0" fill="#7a3434" rx="1"/>
<line x1="677.9" y1="304.0" x2="677.9" y2="309.1" stroke="#a2a2a2" stroke-width="1.8"/>
<line x1="677.9" y1="309.1" x2="677.9" y2="314.0" stroke="#616161" stroke-width="1.8"/>
<rect x="675.0" y="305.6" width="5.8" height="6.9" fill="#2b6f1f" rx="1.2"/>
<line x1="685.0" y1="298.6" x2="685.0" y2="306.8" stroke="#a2a2a2" stroke-width="1.8"/>
<line x1="685.0" y1="306.8" x2="685.0" y2="312.5" stroke="#616161" stroke-width="1.8"/>
<rect x="682.1" y="305.2" width="5.8" height="3.0" fill="#7a3434" rx="1"/>
<line x1="692.0" y1="287.0" x2="692.0" y2="302.7" stroke="#a2a2a2" stroke-width="1.8"/>
<line x1="692.0" y1="302.7" x2="692.0" y2="312.5" stroke="#616161" stroke-width="1.8"/>
<rect x="689.1" y="298.6" width="5.8" height="8.2" fill="#2b6f1f" rx="1.2"/>
<line x1="699.1" y1="284.7" x2="699.1" y2="295.8" stroke="#a2a2a2" stroke-width="1.8"/>
<line x1="699.1" y1="295.8" x2="699.1" y2="302.1" stroke="#616161" stroke-width="1.8"/>
<rect x="696.2" y="291.7" width="5.8" height="8.1" fill="#2b6f1f" rx="1.2"/>
<line x1="706.2" y1="280.0" x2="706.2" y2="287.6" stroke="#a2a2a2" stroke-width="1.8"/>
<line x1="706.2" y1="287.6" x2="706.2" y2="294.0" stroke="#616161" stroke-width="1.8"/>
<rect x="703.3" y="282.4" width="5.8" height="10.5" fill="#2b6f1f" rx="1.2"/>
<line x1="713.3" y1="282.0" x2="713.3" y2="290.0" stroke="#a2a2a2" stroke-width="1.8"/>
<line x1="713.3" y1="290.0" x2="713.3" y2="298.6" stroke="#616161" stroke-width="1.8"/>
<rect x="710.4" y="283.6" width="5.8" height="12.7" fill="#c81b22" rx="1.2"/>
<line x1="720.3" y1="292.0" x2="720.3" y2="306.1" stroke="#a2a2a2" stroke-width="1.8"/>
<line x1="720.3" y1="306.1" x2="720.3" y2="320.6" stroke="#616161" stroke-width="1.8"/>
<rect x="717.4" y="294.0" width="5.8" height="24.3" fill="#c81b22" rx="1.2"/>
<line x1="727.4" y1="304.4" x2="727.4" y2="314.9" stroke="#a2a2a2" stroke-width="1.8"/>
<line x1="727.4" y1="314.9" x2="727.4" y2="320.6" stroke="#616161" stroke-width="1.8"/>
<rect x="724.5" y="311.4" width="5.8" height="6.9" fill="#2b6f1f" rx="1.2"/>
<line x1="734.5" y1="306.8" x2="734.5" y2="315.4" stroke="#a2a2a2" stroke-width="1.8"/>
<line x1="734.5" y1="315.4" x2="734.5" y2="319.5" stroke="#616161" stroke-width="1.8"/>
<rect x="731.6" y="312.5" width="5.8" height="5.8" fill="#c81b22" rx="1.2"/>
<line x1="741.5" y1="313.5" x2="741.5" y2="321.6" stroke="#a2a2a2" stroke-width="1.8"/>
<line x1="741.5" y1="321.6" x2="741.5" y2="332.3" stroke="#616161" stroke-width="1.8"/>
<rect x="738.6" y="317.5" width="5.8" height="8.2" fill="#c81b22" rx="1.2"/>
<line x1="748.6" y1="323.0" x2="748.6" y2="326.6" stroke="#a2a2a2" stroke-width="1.8"/>
<line x1="748.6" y1="326.6" x2="748.6" y2="334.5" stroke="#616161" stroke-width="1.8"/>
<rect x="745.7" y="324.6" width="5.8" height="4.1" fill="#c81b22" rx="1.2"/>
<line x1="755.7" y1="325.5" x2="755.7" y2="329.1" stroke="#a2a2a2" stroke-width="1.8"/>
<line x1="755.7" y1="329.1" x2="755.7" y2="336.7" stroke="#616161" stroke-width="1.8"/>
<rect x="752.8" y="327.3" width="5.8" height="3.6" fill="#c81b22" rx="1.2"/>
<line x1="762.8" y1="325.8" x2="762.8" y2="331.3" stroke="#a2a2a2" stroke-width="1.8"/>
<line x1="762.8" y1="331.3" x2="762.8" y2="336.7" stroke="#616161" stroke-width="1.8"/>
<rect x="759.9" y="329.8" width="5.8" height="3.0" fill="#7a3434" rx="1"/>
<line x1="769.8" y1="316.4" x2="769.8" y2="324.4" stroke="#a2a2a2" stroke-width="1.8"/>
<line x1="769.8" y1="324.4" x2="769.8" y2="338.9" stroke="#616161" stroke-width="1.8"/>
<rect x="766.9" y="317.9" width="5.8" height="13.0" fill="#2b6f1f" rx="1.2"/>
<line x1="776.9" y1="299.0" x2="776.9" y2="316.1" stroke="#a2a2a2" stroke-width="1.8"/>
<line x1="776.9" y1="316.1" x2="776.9" y2="324.4" stroke="#616161" stroke-width="1.8"/>
<rect x="774.0" y="314.3" width="5.8" height="3.6" fill="#2b6f1f" rx="1.2"/>
<line x1="784.0" y1="300.0" x2="784.0" y2="307.1" stroke="#a2a2a2" stroke-width="1.8"/>
<line x1="784.0" y1="307.1" x2="784.0" y2="327.3" stroke="#616161" stroke-width="1.8"/>
<rect x="781.1" y="302.0" width="5.8" height="10.1" fill="#2b6f1f" rx="1.2"/>
<line x1="791.0" y1="287.0" x2="791.0" y2="296.1" stroke="#a2a2a2" stroke-width="1.8"/>
<line x1="791.0" y1="296.1" x2="791.0" y2="319.3" stroke="#616161" stroke-width="1.8"/>
<rect x="788.1" y="288.9" width="5.8" height="14.5" fill="#2b6f1f" rx="1.2"/>
<line x1="798.1" y1="282.4" x2="798.1" y2="292.6" stroke="#a2a2a2" stroke-width="1.8"/>
<line x1="798.1" y1="292.6" x2="798.1" y2="304.9" stroke="#616161" stroke-width="1.8"/>
<rect x="795.2" y="286.0" width="5.8" height="13.1" fill="#c81b22" rx="1.2"/>
<line x1="805.2" y1="286.0" x2="805.2" y2="305.6" stroke="#a2a2a2" stroke-width="1.8"/>
<line x1="805.2" y1="305.6" x2="805.2" y2="312.8" stroke="#616161" stroke-width="1.8"/>
<rect x="802.3" y="299.1" width="5.8" height="13.0" fill="#c81b22" rx="1.2"/>
<line x1="812.2" y1="296.9" x2="812.2" y2="310.3" stroke="#a2a2a2" stroke-width="1.8"/>
<line x1="812.2" y1="310.3" x2="812.2" y2="317.2" stroke="#616161" stroke-width="1.8"/>
<rect x="809.3" y="308.5" width="5.8" height="3.6" fill="#c81b22" rx="1.2"/>
<line x1="819.3" y1="308.0" x2="819.3" y2="315.4" stroke="#a2a2a2" stroke-width="1.8"/>
<line x1="819.3" y1="315.4" x2="819.3" y2="324.4" stroke="#616161" stroke-width="1.8"/>
<rect x="816.4" y="310.0" width="5.8" height="10.8" fill="#c81b22" rx="1.2"/>

<rect x="833.4" y="319.8" width="2" height="2" fill="#9a9a9a"/>
<rect x="840.4" y="319.8" width="2" height="2" fill="#9a9a9a"/>
<rect x="847.4" y="319.8" width="2" height="2" fill="#9a9a9a"/>
<rect x="854.4" y="319.8" width="2" height="2" fill="#9a9a9a"/>
<rect x="861.4" y="319.8" width="2" height="2" fill="#9a9a9a"/>
<rect x="868.4" y="319.8" width="2" height="2" fill="#9a9a9a"/>
<rect x="875.4" y="319.8" width="2" height="2" fill="#9a9a9a"/>
<rect x="882.4" y="319.8" width="2" height="2" fill="#9a9a9a"/>
<rect x="889.4" y="319.8" width="2" height="2" fill="#9a9a9a"/>
<rect x="826.6" y="332.0" width="2" height="2" fill="#a8a8a8"/>
<rect x="833.6" y="332.0" width="2" height="2" fill="#a8a8a8"/>
<rect x="840.6" y="332.0" width="2" height="2" fill="#a8a8a8"/>
<rect x="847.6" y="332.0" width="2" height="2" fill="#a8a8a8"/>
<rect x="854.6" y="332.0" width="2" height="2" fill="#a8a8a8"/>
<rect x="861.6" y="332.0" width="2" height="2" fill="#a8a8a8"/>
<rect x="868.6" y="332.0" width="2" height="2" fill="#a8a8a8"/>
<rect x="875.6" y="332.0" width="2" height="2" fill="#a8a8a8"/>
<rect x="882.6" y="332.0" width="2" height="2" fill="#a8a8a8"/>
<rect x="889.6" y="332.0" width="2" height="2" fill="#a8a8a8"/>

<line x1="828" y1="319" x2="884" y2="200" stroke="#2a5ca8" stroke-width="6.6" stroke-linecap="round"/>
<path d="M891.2,184 L870.5,198.5 L893,208 Z" fill="#2a5ca8"/>

<path d="M896.0,183.5 L907.5,170.2 L1020.0,170.2 L1020.0,196.8 L907.5,196.8 Z" fill="#4ca30f"/><text x="913" y="189.9" class="lab" fill="#e2f3d2">1.1850</text>
<path d="M896.0,231.0 L907.5,217.8 L1020.0,217.8 L1020.0,244.2 L907.5,244.2 Z" fill="#4ca30f"/><text x="913" y="237.4" class="lab" fill="#e2f3d2">1.1830</text>
<path d="M896.0,320.8 L907.5,307.6 L1020.0,307.6 L1020.0,334.1 L907.5,334.1 Z" fill="#303030"/><text x="913" y="327.2" class="lab" fill="#dcdcdc">1.1793</text>
<path d="M896.0,364.0 L907.5,350.8 L1020.0,350.8 L1020.0,377.2 L907.5,377.2 Z" fill="#1f65ee"/><text x="913" y="370.4" class="lab" fill="#d6e4ff">1.1775</text>
<text x="913" y="430.4" class="lab" fill="#d8303a">1.1750</text>
<text x="913" y="478.4" class="lab" fill="#d8303a">1.1730</text>

<line x1="0" y1="491" x2="1024" y2="491" stroke="#efefef" stroke-width="1"/>

<rect x="19.5" y="514.6" width="21" height="8" fill="#5b7fe0"/>
<text x="53" y="523.8" class="leg">RSI</text>
<rect x="103.5" y="514.6" width="22" height="8" fill="#e81010"/>
<text x="137.7" y="523.8" class="leg">9MA</text>

<rect x="14.2" y="555.2" width="2" height="2" fill="#cbcbcb"/>
<rect x="21.2" y="555.2" width="2" height="2" fill="#cbcbcb"/>
<rect x="28.2" y="555.2" width="2" height="2" fill="#cbcbcb"/>
<rect x="35.2" y="555.2" width="2" height="2" fill="#cbcbcb"/>
<rect x="42.2" y="555.2" width="2" height="2" fill="#cbcbcb"/>
<rect x="49.2" y="555.2" width="2" height="2" fill="#cbcbcb"/>
<rect x="56.2" y="555.2" width="2" height="2" fill="#cbcbcb"/>
<rect x="63.2" y="555.2" width="2" height="2" fill="#cbcbcb"/>
<rect x="70.2" y="555.2" width="2" height="2" fill="#cbcbcb"/>
<rect x="77.2" y="555.2" width="2" height="2" fill="#cbcbcb"/>
<rect x="84.2" y="555.2" width="2" height="2" fill="#cbcbcb"/>
<rect x="91.2" y="555.2" width="2" height="2" fill="#cbcbcb"/>
<rect x="98.2" y="555.2" width="2" height="2" fill="#cbcbcb"/>
<rect x="105.2" y="555.2" width="2" height="2" fill="#cbcbcb"/>
<rect x="112.2" y="555.2" width="2" height="2" fill="#cbcbcb"/>
<rect x="119.2" y="555.2" width="2" height="2" fill="#cbcbcb"/>
<rect x="126.2" y="555.2" width="2" height="2" fill="#cbcbcb"/>
<rect x="133.2" y="555.2" width="2" height="2" fill="#cbcbcb"/>
<rect x="140.2" y="555.2" width="2" height="2" fill="#cbcbcb"/>
<rect x="147.2" y="555.2" width="2" height="2" fill="#cbcbcb"/>
<rect x="154.2" y="555.2" width="2" height="2" fill="#cbcbcb"/>
<rect x="161.2" y="555.2" width="2" height="2" fill="#cbcbcb"/>
<rect x="168.2" y="555.2" width="2" height="2" fill="#cbcbcb"/>
<rect x="175.2" y="555.2" width="2" height="2" fill="#cbcbcb"/>
<rect x="182.2" y="555.2" width="2" height="2" fill="#cbcbcb"/>
<rect x="189.2" y="555.2" width="2" height="2" fill="#cbcbcb"/>
<rect x="196.2" y="555.2" width="2" height="2" fill="#cbcbcb"/>
<rect x="203.2" y="555.2" width="2" height="2" fill="#cbcbcb"/>
<rect x="210.2" y="555.2" width="2" height="2" fill="#cbcbcb"/>
<rect x="217.2" y="555.2" width="2" height="2" fill="#cbcbcb"/>
<rect x="224.2" y="555.2" width="2" height="2" fill="#cbcbcb"/>
<rect x="231.2" y="555.2" width="2" height="2" fill="#cbcbcb"/>
<rect x="238.2" y="555.2" width="2" height="2" fill="#cbcbcb"/>
<rect x="245.2" y="555.2" width="2" height="2" fill="#cbcbcb"/>
<rect x="252.2" y="555.2" width="2" height="2" fill="#cbcbcb"/>
<rect x="259.2" y="555.2" width="2" height="2" fill="#cbcbcb"/>
<rect x="266.2" y="555.2" width="2" height="2" fill="#cbcbcb"/>
<rect x="273.2" y="555.2" width="2" height="2" fill="#cbcbcb"/>
<rect x="280.2" y="555.2" width="2" height="2" fill="#cbcbcb"/>
<rect x="287.2" y="555.2" width="2" height="2" fill="#cbcbcb"/>
<rect x="294.2" y="555.2" width="2" height="2" fill="#cbcbcb"/>
<rect x="301.2" y="555.2" width="2" height="2" fill="#cbcbcb"/>
<rect x="308.2" y="555.2" width="2" height="2" fill="#cbcbcb"/>
<rect x="315.2" y="555.2" width="2" height="2" fill="#cbcbcb"/>
<rect x="322.2" y="555.2" width="2" height="2" fill="#cbcbcb"/>
<rect x="329.2" y="555.2" width="2" height="2" fill="#cbcbcb"/>
<rect x="336.2" y="555.2" width="2" height="2" fill="#cbcbcb"/>
<rect x="343.2" y="555.2" width="2" height="2" fill="#cbcbcb"/>
<rect x="350.2" y="555.2" width="2" height="2" fill="#cbcbcb"/>
<rect x="357.2" y="555.2" width="2" height="2" fill="#cbcbcb"/>
<rect x="364.2" y="555.2" width="2" height="2" fill="#cbcbcb"/>
<rect x="371.2" y="555.2" width="2" height="2" fill="#cbcbcb"/>
<rect x="378.2" y="555.2" width="2" height="2" fill="#cbcbcb"/>
<rect x="385.2" y="555.2" width="2" height="2" fill="#cbcbcb"/>
<rect x="392.2" y="555.2" width="2" height="2" fill="#cbcbcb"/>
<rect x="399.2" y="555.2" width="2" height="2" fill="#cbcbcb"/>
<rect x="406.2" y="555.2" width="2" height="2" fill="#cbcbcb"/>
<rect x="413.2" y="555.2" width="2" height="2" fill="#cbcbcb"/>
<rect x="420.2" y="555.2" width="2" height="2" fill="#cbcbcb"/>
<rect x="427.2" y="555.2" width="2" height="2" fill="#cbcbcb"/>
<rect x="434.2" y="555.2" width="2" height="2" fill="#cbcbcb"/>
<rect x="441.2" y="555.2" width="2" height="2" fill="#cbcbcb"/>
<rect x="448.2" y="555.2" width="2" height="2" fill="#cbcbcb"/>
<rect x="455.2" y="555.2" width="2" height="2" fill="#cbcbcb"/>
<rect x="462.2" y="555.2" width="2" height="2" fill="#cbcbcb"/>
<rect x="469.2" y="555.2" width="2" height="2" fill="#cbcbcb"/>
<rect x="476.2" y="555.2" width="2" height="2" fill="#cbcbcb"/>
<rect x="483.2" y="555.2" width="2" height="2" fill="#cbcbcb"/>
<rect x="490.2" y="555.2" width="2" height="2" fill="#cbcbcb"/>
<rect x="497.2" y="555.2" width="2" height="2" fill="#cbcbcb"/>
<rect x="504.2" y="555.2" width="2" height="2" fill="#cbcbcb"/>
<rect x="511.2" y="555.2" width="2" height="2" fill="#cbcbcb"/>
<rect x="518.2" y="555.2" width="2" height="2" fill="#cbcbcb"/>
<rect x="525.2" y="555.2" width="2" height="2" fill="#cbcbcb"/>
<rect x="532.2" y="555.2" width="2" height="2" fill="#cbcbcb"/>
<rect x="539.2" y="555.2" width="2" height="2" fill="#cbcbcb"/>
<rect x="546.2" y="555.2" width="2" height="2" fill="#cbcbcb"/>
<rect x="553.2" y="555.2" width="2" height="2" fill="#cbcbcb"/>
<rect x="560.2" y="555.2" width="2" height="2" fill="#cbcbcb"/>
<rect x="567.2" y="555.2" width="2" height="2" fill="#cbcbcb"/>
<rect x="574.2" y="555.2" width="2" height="2" fill="#cbcbcb"/>
<rect x="581.2" y="555.2" width="2" height="2" fill="#cbcbcb"/>
<rect x="588.2" y="555.2" width="2" height="2" fill="#cbcbcb"/>
<rect x="595.2" y="555.2" width="2" height="2" fill="#cbcbcb"/>
<rect x="602.2" y="555.2" width="2" height="2" fill="#cbcbcb"/>
<rect x="609.2" y="555.2" width="2" height="2" fill="#cbcbcb"/>
<rect x="616.2" y="555.2" width="2" height="2" fill="#cbcbcb"/>
<rect x="623.2" y="555.2" width="2" height="2" fill="#cbcbcb"/>
<rect x="630.2" y="555.2" width="2" height="2" fill="#cbcbcb"/>
<rect x="637.2" y="555.2" width="2" height="2" fill="#cbcbcb"/>
<rect x="644.2" y="555.2" width="2" height="2" fill="#cbcbcb"/>
<rect x="651.2" y="555.2" width="2" height="2" fill="#cbcbcb"/>
<rect x="658.2" y="555.2" width="2" height="2" fill="#cbcbcb"/>
<rect x="665.2" y="555.2" width="2" height="2" fill="#cbcbcb"/>
<rect x="672.2" y="555.2" width="2" height="2" fill="#cbcbcb"/>
<rect x="679.2" y="555.2" width="2" height="2" fill="#cbcbcb"/>
<rect x="686.2" y="555.2" width="2" height="2" fill="#cbcbcb"/>
<rect x="693.2" y="555.2" width="2" height="2" fill="#cbcbcb"/>
<rect x="700.2" y="555.2" width="2" height="2" fill="#cbcbcb"/>
<rect x="707.2" y="555.2" width="2" height="2" fill="#cbcbcb"/>
<rect x="714.2" y="555.2" width="2" height="2" fill="#cbcbcb"/>
<rect x="721.2" y="555.2" width="2" height="2" fill="#cbcbcb"/>
<rect x="728.2" y="555.2" width="2" height="2" fill="#cbcbcb"/>
<rect x="735.2" y="555.2" width="2" height="2" fill="#cbcbcb"/>
<rect x="742.2" y="555.2" width="2" height="2" fill="#cbcbcb"/>
<rect x="749.2" y="555.2" width="2" height="2" fill="#cbcbcb"/>
<rect x="756.2" y="555.2" width="2" height="2" fill="#cbcbcb"/>
<rect x="763.2" y="555.2" width="2" height="2" fill="#cbcbcb"/>
<rect x="770.2" y="555.2" width="2" height="2" fill="#cbcbcb"/>
<rect x="777.2" y="555.2" width="2" height="2" fill="#cbcbcb"/>
<rect x="784.2" y="555.2" width="2" height="2" fill="#cbcbcb"/>
<rect x="791.2" y="555.2" width="2" height="2" fill="#cbcbcb"/>
<rect x="798.2" y="555.2" width="2" height="2" fill="#cbcbcb"/>
<rect x="805.2" y="555.2" width="2" height="2" fill="#cbcbcb"/>
<rect x="812.2" y="555.2" width="2" height="2" fill="#cbcbcb"/>
<rect x="819.2" y="555.2" width="2" height="2" fill="#cbcbcb"/>
<rect x="826.2" y="555.2" width="2" height="2" fill="#cbcbcb"/>
<rect x="833.2" y="555.2" width="2" height="2" fill="#cbcbcb"/>
<rect x="840.2" y="555.2" width="2" height="2" fill="#cbcbcb"/>
<rect x="847.2" y="555.2" width="2" height="2" fill="#cbcbcb"/>
<rect x="854.2" y="555.2" width="2" height="2" fill="#cbcbcb"/>
<rect x="861.2" y="555.2" width="2" height="2" fill="#cbcbcb"/>
<rect x="868.2" y="555.2" width="2" height="2" fill="#cbcbcb"/>
<rect x="875.2" y="555.2" width="2" height="2" fill="#cbcbcb"/>
<rect x="882.2" y="555.2" width="2" height="2" fill="#cbcbcb"/>
<rect x="889.2" y="555.2" width="2" height="2" fill="#cbcbcb"/>
<rect x="896.2" y="555.2" width="2" height="2" fill="#cbcbcb"/>
<rect x="14.2" y="587.6" width="2" height="2" fill="#cbcbcb"/>
<rect x="21.2" y="587.6" width="2" height="2" fill="#cbcbcb"/>
<rect x="28.2" y="587.6" width="2" height="2" fill="#cbcbcb"/>
<rect x="35.2" y="587.6" width="2" height="2" fill="#cbcbcb"/>
<rect x="42.2" y="587.6" width="2" height="2" fill="#cbcbcb"/>
<rect x="49.2" y="587.6" width="2" height="2" fill="#cbcbcb"/>
<rect x="56.2" y="587.6" width="2" height="2" fill="#cbcbcb"/>
<rect x="63.2" y="587.6" width="2" height="2" fill="#cbcbcb"/>
<rect x="70.2" y="587.6" width="2" height="2" fill="#cbcbcb"/>
<rect x="77.2" y="587.6" width="2" height="2" fill="#cbcbcb"/>
<rect x="84.2" y="587.6" width="2" height="2" fill="#cbcbcb"/>
<rect x="91.2" y="587.6" width="2" height="2" fill="#cbcbcb"/>
<rect x="98.2" y="587.6" width="2" height="2" fill="#cbcbcb"/>
<rect x="105.2" y="587.6" width="2" height="2" fill="#cbcbcb"/>
<rect x="112.2" y="587.6" width="2" height="2" fill="#cbcbcb"/>
<rect x="119.2" y="587.6" width="2" height="2" fill="#cbcbcb"/>
<rect x="126.2" y="587.6" width="2" height="2" fill="#cbcbcb"/>
<rect x="133.2" y="587.6" width="2" height="2" fill="#cbcbcb"/>
<rect x="140.2" y="587.6" width="2" height="2" fill="#cbcbcb"/>
<rect x="147.2" y="587.6" width="2" height="2" fill="#cbcbcb"/>
<rect x="154.2" y="587.6" width="2" height="2" fill="#cbcbcb"/>
<rect x="161.2" y="587.6" width="2" height="2" fill="#cbcbcb"/>
<rect x="168.2" y="587.6" width="2" height="2" fill="#cbcbcb"/>
<rect x="175.2" y="587.6" width="2" height="2" fill="#cbcbcb"/>
<rect x="182.2" y="587.6" width="2" height="2" fill="#cbcbcb"/>
<rect x="189.2" y="587.6" width="2" height="2" fill="#cbcbcb"/>
<rect x="196.2" y="587.6" width="2" height="2" fill="#cbcbcb"/>
<rect x="203.2" y="587.6" width="2" height="2" fill="#cbcbcb"/>
<rect x="210.2" y="587.6" width="2" height="2" fill="#cbcbcb"/>
<rect x="217.2" y="587.6" width="2" height="2" fill="#cbcbcb"/>
<rect x="224.2" y="587.6" width="2" height="2" fill="#cbcbcb"/>
<rect x="231.2" y="587.6" width="2" height="2" fill="#cbcbcb"/>
<rect x="238.2" y="587.6" width="2" height="2" fill="#cbcbcb"/>
<rect x="245.2" y="587.6" width="2" height="2" fill="#cbcbcb"/>
<rect x="252.2" y="587.6" width="2" height="2" fill="#cbcbcb"/>
<rect x="259.2" y="587.6" width="2" height="2" fill="#cbcbcb"/>
<rect x="266.2" y="587.6" width="2" height="2" fill="#cbcbcb"/>
<rect x="273.2" y="587.6" width="2" height="2" fill="#cbcbcb"/>
<rect x="280.2" y="587.6" width="2" height="2" fill="#cbcbcb"/>
<rect x="287.2" y="587.6" width="2" height="2" fill="#cbcbcb"/>
<rect x="294.2" y="587.6" width="2" height="2" fill="#cbcbcb"/>
<rect x="301.2" y="587.6" width="2" height="2" fill="#cbcbcb"/>
<rect x="308.2" y="587.6" width="2" height="2" fill="#cbcbcb"/>
<rect x="315.2" y="587.6" width="2" height="2" fill="#cbcbcb"/>
<rect x="322.2" y="587.6" width="2" height="2" fill="#cbcbcb"/>
<rect x="329.2" y="587.6" width="2" height="2" fill="#cbcbcb"/>
<rect x="336.2" y="587.6" width="2" height="2" fill="#cbcbcb"/>
<rect x="343.2" y="587.6" width="2" height="2" fill="#cbcbcb"/>
<rect x="350.2" y="587.6" width="2" height="2" fill="#cbcbcb"/>
<rect x="357.2" y="587.6" width="2" height="2" fill="#cbcbcb"/>
<rect x="364.2" y="587.6" width="2" height="2" fill="#cbcbcb"/>
<rect x="371.2" y="587.6" width="2" height="2" fill="#cbcbcb"/>
<rect x="378.2" y="587.6" width="2" height="2" fill="#cbcbcb"/>
<rect x="385.2" y="587.6" width="2" height="2" fill="#cbcbcb"/>
<rect x="392.2" y="587.6" width="2" height="2" fill="#cbcbcb"/>
<rect x="399.2" y="587.6" width="2" height="2" fill="#cbcbcb"/>
<rect x="406.2" y="587.6" width="2" height="2" fill="#cbcbcb"/>
<rect x="413.2" y="587.6" width="2" height="2" fill="#cbcbcb"/>
<rect x="420.2" y="587.6" width="2" height="2" fill="#cbcbcb"/>
<rect x="427.2" y="587.6" width="2" height="2" fill="#cbcbcb"/>
<rect x="434.2" y="587.6" width="2" height="2" fill="#cbcbcb"/>
<rect x="441.2" y="587.6" width="2" height="2" fill="#cbcbcb"/>
<rect x="448.2" y="587.6" width="2" height="2" fill="#cbcbcb"/>
<rect x="455.2" y="587.6" width="2" height="2" fill="#cbcbcb"/>
<rect x="462.2" y="587.6" width="2" height="2" fill="#cbcbcb"/>
<rect x="469.2" y="587.6" width="2" height="2" fill="#cbcbcb"/>
<rect x="476.2" y="587.6" width="2" height="2" fill="#cbcbcb"/>
<rect x="483.2" y="587.6" width="2" height="2" fill="#cbcbcb"/>
<rect x="490.2" y="587.6" width="2" height="2" fill="#cbcbcb"/>
<rect x="497.2" y="587.6" width="2" height="2" fill="#cbcbcb"/>
<rect x="504.2" y="587.6" width="2" height="2" fill="#cbcbcb"/>
<rect x="511.2" y="587.6" width="2" height="2" fill="#cbcbcb"/>
<rect x="518.2" y="587.6" width="2" height="2" fill="#cbcbcb"/>
<rect x="525.2" y="587.6" width="2" height="2" fill="#cbcbcb"/>
<rect x="532.2" y="587.6" width="2" height="2" fill="#cbcbcb"/>
<rect x="539.2" y="587.6" width="2" height="2" fill="#cbcbcb"/>
<rect x="546.2" y="587.6" width="2" height="2" fill="#cbcbcb"/>
<rect x="553.2" y="587.6" width="2" height="2" fill="#cbcbcb"/>
<rect x="560.2" y="587.6" width="2" height="2" fill="#cbcbcb"/>
<rect x="567.2" y="587.6" width="2" height="2" fill="#cbcbcb"/>
<rect x="574.2" y="587.6" width="2" height="2" fill="#cbcbcb"/>
<rect x="581.2" y="587.6" width="2" height="2" fill="#cbcbcb"/>
<rect x="588.2" y="587.6" width="2" height="2" fill="#cbcbcb"/>
<rect x="595.2" y="587.6" width="2" height="2" fill="#cbcbcb"/>
<rect x="602.2" y="587.6" width="2" height="2" fill="#cbcbcb"/>
<rect x="609.2" y="587.6" width="2" height="2" fill="#cbcbcb"/>
<rect x="616.2" y="587.6" width="2" height="2" fill="#cbcbcb"/>
<rect x="623.2" y="587.6" width="2" height="2" fill="#cbcbcb"/>
<rect x="630.2" y="587.6" width="2" height="2" fill="#cbcbcb"/>
<rect x="637.2" y="587.6" width="2" height="2" fill="#cbcbcb"/>
<rect x="644.2" y="587.6" width="2" height="2" fill="#cbcbcb"/>
<rect x="651.2" y="587.6" width="2" height="2" fill="#cbcbcb"/>
<rect x="658.2" y="587.6" width="2" height="2" fill="#cbcbcb"/>
<rect x="665.2" y="587.6" width="2" height="2" fill="#cbcbcb"/>
<rect x="672.2" y="587.6" width="2" height="2" fill="#cbcbcb"/>
<rect x="679.2" y="587.6" width="2" height="2" fill="#cbcbcb"/>
<rect x="686.2" y="587.6" width="2" height="2" fill="#cbcbcb"/>
<rect x="693.2" y="587.6" width="2" height="2" fill="#cbcbcb"/>
<rect x="700.2" y="587.6" width="2" height="2" fill="#cbcbcb"/>
<rect x="707.2" y="587.6" width="2" height="2" fill="#cbcbcb"/>
<rect x="714.2" y="587.6" width="2" height="2" fill="#cbcbcb"/>
<rect x="721.2" y="587.6" width="2" height="2" fill="#cbcbcb"/>
<rect x="728.2" y="587.6" width="2" height="2" fill="#cbcbcb"/>
<rect x="735.2" y="587.6" width="2" height="2" fill="#cbcbcb"/>
<rect x="742.2" y="587.6" width="2" height="2" fill="#cbcbcb"/>
<rect x="749.2" y="587.6" width="2" height="2" fill="#cbcbcb"/>
<rect x="756.2" y="587.6" width="2" height="2" fill="#cbcbcb"/>
<rect x="763.2" y="587.6" width="2" height="2" fill="#cbcbcb"/>
<rect x="770.2" y="587.6" width="2" height="2" fill="#cbcbcb"/>
<rect x="777.2" y="587.6" width="2" height="2" fill="#cbcbcb"/>
<rect x="784.2" y="587.6" width="2" height="2" fill="#cbcbcb"/>
<rect x="791.2" y="587.6" width="2" height="2" fill="#cbcbcb"/>
<rect x="798.2" y="587.6" width="2" height="2" fill="#cbcbcb"/>
<rect x="805.2" y="587.6" width="2" height="2" fill="#cbcbcb"/>
<rect x="812.2" y="587.6" width="2" height="2" fill="#cbcbcb"/>
<rect x="819.2" y="587.6" width="2" height="2" fill="#cbcbcb"/>
<rect x="826.2" y="587.6" width="2" height="2" fill="#cbcbcb"/>
<rect x="833.2" y="587.6" width="2" height="2" fill="#cbcbcb"/>
<rect x="840.2" y="587.6" width="2" height="2" fill="#cbcbcb"/>
<rect x="847.2" y="587.6" width="2" height="2" fill="#cbcbcb"/>
<rect x="854.2" y="587.6" width="2" height="2" fill="#cbcbcb"/>
<rect x="861.2" y="587.6" width="2" height="2" fill="#cbcbcb"/>
<rect x="868.2" y="587.6" width="2" height="2" fill="#cbcbcb"/>
<rect x="875.2" y="587.6" width="2" height="2" fill="#cbcbcb"/>
<rect x="882.2" y="587.6" width="2" height="2" fill="#cbcbcb"/>
<rect x="889.2" y="587.6" width="2" height="2" fill="#cbcbcb"/>
<rect x="896.2" y="587.6" width="2" height="2" fill="#cbcbcb"/>
<rect x="14.2" y="620.3" width="2" height="2" fill="#cbcbcb"/>
<rect x="21.2" y="620.3" width="2" height="2" fill="#cbcbcb"/>
<rect x="28.2" y="620.3" width="2" height="2" fill="#cbcbcb"/>
<rect x="35.2" y="620.3" width="2" height="2" fill="#cbcbcb"/>
<rect x="42.2" y="620.3" width="2" height="2" fill="#cbcbcb"/>
<rect x="49.2" y="620.3" width="2" height="2" fill="#cbcbcb"/>
<rect x="56.2" y="620.3" width="2" height="2" fill="#cbcbcb"/>
<rect x="63.2" y="620.3" width="2" height="2" fill="#cbcbcb"/>
<rect x="70.2" y="620.3" width="2" height="2" fill="#cbcbcb"/>
<rect x="77.2" y="620.3" width="2" height="2" fill="#cbcbcb"/>
<rect x="84.2" y="620.3" width="2" height="2" fill="#cbcbcb"/>
<rect x="91.2" y="620.3" width="2" height="2" fill="#cbcbcb"/>
<rect x="98.2" y="620.3" width="2" height="2" fill="#cbcbcb"/>
<rect x="105.2" y="620.3" width="2" height="2" fill="#cbcbcb"/>
<rect x="112.2" y="620.3" width="2" height="2" fill="#cbcbcb"/>
<rect x="119.2" y="620.3" width="2" height="2" fill="#cbcbcb"/>
<rect x="126.2" y="620.3" width="2" height="2" fill="#cbcbcb"/>
<rect x="133.2" y="620.3" width="2" height="2" fill="#cbcbcb"/>
<rect x="140.2" y="620.3" width="2" height="2" fill="#cbcbcb"/>
<rect x="147.2" y="620.3" width="2" height="2" fill="#cbcbcb"/>
<rect x="154.2" y="620.3" width="2" height="2" fill="#cbcbcb"/>
<rect x="161.2" y="620.3" width="2" height="2" fill="#cbcbcb"/>
<rect x="168.2" y="620.3" width="2" height="2" fill="#cbcbcb"/>
<rect x="175.2" y="620.3" width="2" height="2" fill="#cbcbcb"/>
<rect x="182.2" y="620.3" width="2" height="2" fill="#cbcbcb"/>
<rect x="189.2" y="620.3" width="2" height="2" fill="#cbcbcb"/>
<rect x="196.2" y="620.3" width="2" height="2" fill="#cbcbcb"/>
<rect x="203.2" y="620.3" width="2" height="2" fill="#cbcbcb"/>
<rect x="210.2" y="620.3" width="2" height="2" fill="#cbcbcb"/>
<rect x="217.2" y="620.3" width="2" height="2" fill="#cbcbcb"/>
<rect x="224.2" y="620.3" width="2" height="2" fill="#cbcbcb"/>
<rect x="231.2" y="620.3" width="2" height="2" fill="#cbcbcb"/>
<rect x="238.2" y="620.3" width="2" height="2" fill="#cbcbcb"/>
<rect x="245.2" y="620.3" width="2" height="2" fill="#cbcbcb"/>
<rect x="252.2" y="620.3" width="2" height="2" fill="#cbcbcb"/>
<rect x="259.2" y="620.3" width="2" height="2" fill="#cbcbcb"/>
<rect x="266.2" y="620.3" width="2" height="2" fill="#cbcbcb"/>
<rect x="273.2" y="620.3" width="2" height="2" fill="#cbcbcb"/>
<rect x="280.2" y="620.3" width="2" height="2" fill="#cbcbcb"/>
<rect x="287.2" y="620.3" width="2" height="2" fill="#cbcbcb"/>
<rect x="294.2" y="620.3" width="2" height="2" fill="#cbcbcb"/>
<rect x="301.2" y="620.3" width="2" height="2" fill="#cbcbcb"/>
<rect x="308.2" y="620.3" width="2" height="2" fill="#cbcbcb"/>
<rect x="315.2" y="620.3" width="2" height="2" fill="#cbcbcb"/>
<rect x="322.2" y="620.3" width="2" height="2" fill="#cbcbcb"/>
<rect x="329.2" y="620.3" width="2" height="2" fill="#cbcbcb"/>
<rect x="336.2" y="620.3" width="2" height="2" fill="#cbcbcb"/>
<rect x="343.2" y="620.3" width="2" height="2" fill="#cbcbcb"/>
<rect x="350.2" y="620.3" width="2" height="2" fill="#cbcbcb"/>
<rect x="357.2" y="620.3" width="2" height="2" fill="#cbcbcb"/>
<rect x="364.2" y="620.3" width="2" height="2" fill="#cbcbcb"/>
<rect x="371.2" y="620.3" width="2" height="2" fill="#cbcbcb"/>
<rect x="378.2" y="620.3" width="2" height="2" fill="#cbcbcb"/>
<rect x="385.2" y="620.3" width="2" height="2" fill="#cbcbcb"/>
<rect x="392.2" y="620.3" width="2" height="2" fill="#cbcbcb"/>
<rect x="399.2" y="620.3" width="2" height="2" fill="#cbcbcb"/>
<rect x="406.2" y="620.3" width="2" height="2" fill="#cbcbcb"/>
<rect x="413.2" y="620.3" width="2" height="2" fill="#cbcbcb"/>
<rect x="420.2" y="620.3" width="2" height="2" fill="#cbcbcb"/>
<rect x="427.2" y="620.3" width="2" height="2" fill="#cbcbcb"/>
<rect x="434.2" y="620.3" width="2" height="2" fill="#cbcbcb"/>
<rect x="441.2" y="620.3" width="2" height="2" fill="#cbcbcb"/>
<rect x="448.2" y="620.3" width="2" height="2" fill="#cbcbcb"/>
<rect x="455.2" y="620.3" width="2" height="2" fill="#cbcbcb"/>
<rect x="462.2" y="620.3" width="2" height="2" fill="#cbcbcb"/>
<rect x="469.2" y="620.3" width="2" height="2" fill="#cbcbcb"/>
<rect x="476.2" y="620.3" width="2" height="2" fill="#cbcbcb"/>
<rect x="483.2" y="620.3" width="2" height="2" fill="#cbcbcb"/>
<rect x="490.2" y="620.3" width="2" height="2" fill="#cbcbcb"/>
<rect x="497.2" y="620.3" width="2" height="2" fill="#cbcbcb"/>
<rect x="504.2" y="620.3" width="2" height="2" fill="#cbcbcb"/>
<rect x="511.2" y="620.3" width="2" height="2" fill="#cbcbcb"/>
<rect x="518.2" y="620.3" width="2" height="2" fill="#cbcbcb"/>
<rect x="525.2" y="620.3" width="2" height="2" fill="#cbcbcb"/>
<rect x="532.2" y="620.3" width="2" height="2" fill="#cbcbcb"/>
<rect x="539.2" y="620.3" width="2" height="2" fill="#cbcbcb"/>
<rect x="546.2" y="620.3" width="2" height="2" fill="#cbcbcb"/>
<rect x="553.2" y="620.3" width="2" height="2" fill="#cbcbcb"/>
<rect x="560.2" y="620.3" width="2" height="2" fill="#cbcbcb"/>
<rect x="567.2" y="620.3" width="2" height="2" fill="#cbcbcb"/>
<rect x="574.2" y="620.3" width="2" height="2" fill="#cbcbcb"/>
<rect x="581.2" y="620.3" width="2" height="2" fill="#cbcbcb"/>
<rect x="588.2" y="620.3" width="2" height="2" fill="#cbcbcb"/>
<rect x="595.2" y="620.3" width="2" height="2" fill="#cbcbcb"/>
<rect x="602.2" y="620.3" width="2" height="2" fill="#cbcbcb"/>
<rect x="609.2" y="620.3" width="2" height="2" fill="#cbcbcb"/>
<rect x="616.2" y="620.3" width="2" height="2" fill="#cbcbcb"/>
<rect x="623.2" y="620.3" width="2" height="2" fill="#cbcbcb"/>
<rect x="630.2" y="620.3" width="2" height="2" fill="#cbcbcb"/>
<rect x="637.2" y="620.3" width="2" height="2" fill="#cbcbcb"/>
<rect x="644.2" y="620.3" width="2" height="2" fill="#cbcbcb"/>
<rect x="651.2" y="620.3" width="2" height="2" fill="#cbcbcb"/>
<rect x="658.2" y="620.3" width="2" height="2" fill="#cbcbcb"/>
<rect x="665.2" y="620.3" width="2" height="2" fill="#cbcbcb"/>
<rect x="672.2" y="620.3" width="2" height="2" fill="#cbcbcb"/>
<rect x="679.2" y="620.3" width="2" height="2" fill="#cbcbcb"/>
<rect x="686.2" y="620.3" width="2" height="2" fill="#cbcbcb"/>
<rect x="693.2" y="620.3" width="2" height="2" fill="#cbcbcb"/>
<rect x="700.2" y="620.3" width="2" height="2" fill="#cbcbcb"/>
<rect x="707.2" y="620.3" width="2" height="2" fill="#cbcbcb"/>
<rect x="714.2" y="620.3" width="2" height="2" fill="#cbcbcb"/>
<rect x="721.2" y="620.3" width="2" height="2" fill="#cbcbcb"/>
<rect x="728.2" y="620.3" width="2" height="2" fill="#cbcbcb"/>
<rect x="735.2" y="620.3" width="2" height="2" fill="#cbcbcb"/>
<rect x="742.2" y="620.3" width="2" height="2" fill="#cbcbcb"/>
<rect x="749.2" y="620.3" width="2" height="2" fill="#cbcbcb"/>
<rect x="756.2" y="620.3" width="2" height="2" fill="#cbcbcb"/>
<rect x="763.2" y="620.3" width="2" height="2" fill="#cbcbcb"/>
<rect x="770.2" y="620.3" width="2" height="2" fill="#cbcbcb"/>
<rect x="777.2" y="620.3" width="2" height="2" fill="#cbcbcb"/>
<rect x="784.2" y="620.3" width="2" height="2" fill="#cbcbcb"/>
<rect x="791.2" y="620.3" width="2" height="2" fill="#cbcbcb"/>
<rect x="798.2" y="620.3" width="2" height="2" fill="#cbcbcb"/>
<rect x="805.2" y="620.3" width="2" height="2" fill="#cbcbcb"/>
<rect x="812.2" y="620.3" width="2" height="2" fill="#cbcbcb"/>
<rect x="819.2" y="620.3" width="2" height="2" fill="#cbcbcb"/>
<rect x="826.2" y="620.3" width="2" height="2" fill="#cbcbcb"/>
<rect x="833.2" y="620.3" width="2" height="2" fill="#cbcbcb"/>
<rect x="840.2" y="620.3" width="2" height="2" fill="#cbcbcb"/>
<rect x="847.2" y="620.3" width="2" height="2" fill="#cbcbcb"/>
<rect x="854.2" y="620.3" width="2" height="2" fill="#cbcbcb"/>
<rect x="861.2" y="620.3" width="2" height="2" fill="#cbcbcb"/>
<rect x="868.2" y="620.3" width="2" height="2" fill="#cbcbcb"/>
<rect x="875.2" y="620.3" width="2" height="2" fill="#cbcbcb"/>
<rect x="882.2" y="620.3" width="2" height="2" fill="#cbcbcb"/>
<rect x="889.2" y="620.3" width="2" height="2" fill="#cbcbcb"/>
<rect x="896.2" y="620.3" width="2" height="2" fill="#cbcbcb"/>
<rect x="825.0" y="592.0" width="2" height="2" fill="#8fa3d6"/>
<rect x="832.0" y="592.0" width="2" height="2" fill="#8fa3d6"/>
<rect x="839.0" y="592.0" width="2" height="2" fill="#8fa3d6"/>
<rect x="846.0" y="592.0" width="2" height="2" fill="#8fa3d6"/>
<rect x="853.0" y="592.0" width="2" height="2" fill="#8fa3d6"/>
<rect x="860.0" y="592.0" width="2" height="2" fill="#8fa3d6"/>
<rect x="867.0" y="592.0" width="2" height="2" fill="#8fa3d6"/>
<rect x="874.0" y="592.0" width="2" height="2" fill="#8fa3d6"/>
<rect x="881.0" y="592.0" width="2" height="2" fill="#8fa3d6"/>
<rect x="888.0" y="592.0" width="2" height="2" fill="#8fa3d6"/>

<path d="M20.3,556.1 C21.2,556.6 25.9,558.0 27.6,560.5 C29.3,563.0 33.4,575.6 34.9,577.5 C36.4,579.4 39.3,577.4 40.8,576.6 C42.3,575.8 46.2,571.5 48.1,570.8 C50.0,570.1 55.0,570.1 56.9,570.2 C58.8,570.3 62.5,571.8 64.2,571.6 C65.9,571.4 70.0,567.8 71.5,568.4 C73.0,569.0 75.7,575.7 77.4,576.6 C79.1,577.5 84.5,575.5 86.2,575.7 C87.9,575.9 90.6,576.9 92.0,578.0 C93.4,579.1 96.4,584.4 97.9,585.4 C99.4,586.4 103.5,587.2 105.2,586.9 C106.9,586.6 110.8,583.3 112.5,582.5 C114.2,581.7 118.2,580.6 119.9,580.1 C121.6,579.6 125.7,580.6 127.2,578.0 C128.7,575.4 131.5,560.6 133.0,557.6 C134.5,554.6 138.7,553.0 140.4,552.6 C142.1,552.2 146.2,553.8 147.7,554.1 C149.2,554.4 152.1,555.1 153.6,555.2 C155.1,555.3 159.2,553.3 160.9,554.6 C162.6,555.9 166.7,565.5 168.2,566.4 C169.7,567.3 172.7,562.2 174.1,562.0 C175.5,561.8 178.2,563.4 179.9,564.9 C181.6,566.4 186.8,573.0 188.7,575.2 C190.6,577.4 194.3,582.9 196.0,583.4 C197.7,583.9 201.5,578.3 203.4,579.6 C205.3,580.9 210.3,591.0 212.2,594.2 C214.1,597.4 217.8,605.5 219.5,607.4 C221.2,609.3 225.3,610.3 226.8,610.3 C228.3,610.3 231.0,606.8 232.7,607.4 C234.4,608.0 239.8,614.9 241.5,615.6 C243.2,616.3 245.9,615.2 247.3,613.2 C248.7,611.2 251.7,601.0 253.2,598.6 C254.7,596.2 258.6,593.0 260.5,592.7 C262.4,592.4 267.6,596.1 269.3,596.3 C271.0,596.5 273.3,595.5 275.2,594.2 C277.1,592.9 283.2,587.3 285.4,585.4 C287.6,583.5 292.1,579.6 294.2,578.0 C296.3,576.4 301.3,572.2 303.0,571.6 C304.7,571.0 307.1,572.8 308.8,572.8 C310.5,572.8 315.2,571.3 317.6,571.6 C320.0,571.9 326.9,574.6 329.3,575.2 C331.7,575.8 336.2,577.0 338.1,576.6 C340.0,576.2 343.7,571.9 345.4,572.2 C347.1,572.6 351.2,579.2 352.7,579.6 C354.2,580.0 357.1,576.1 358.6,575.2 C360.1,574.3 364.7,572.2 365.9,572.2 C367.1,572.2 367.9,573.0 368.9,575.2 C369.9,577.4 373.3,589.9 374.7,591.3 C376.1,592.7 379.1,587.8 380.6,586.9 C382.1,586.0 386.4,584.1 387.9,584.0 C389.4,583.9 391.7,586.1 393.8,586.3 C395.9,586.5 403.1,585.4 405.5,585.4 C407.9,585.4 412.2,585.4 414.3,586.3 C416.4,587.2 421.1,590.9 423.1,592.7 C425.1,594.5 429.8,600.0 431.8,601.5 C433.8,603.0 438.5,604.9 440.6,605.9 C442.7,606.9 447.3,609.1 449.4,610.3 C451.5,611.5 456.1,616.2 458.2,616.2 C460.3,616.2 464.9,610.6 467.0,610.3 C469.1,609.9 473.9,612.2 475.8,613.2 C477.7,614.2 481.6,618.6 483.1,619.1 C484.6,619.6 487.6,618.6 489.0,617.6 C490.4,616.6 493.3,610.6 494.8,610.3 C496.3,610.0 500.5,613.7 502.2,614.7 C503.9,615.7 508.0,616.8 509.5,618.5 C511.0,620.2 514.2,630.7 515.4,629.4 C516.6,628.1 518.8,611.8 519.7,607.4 C520.6,603.0 521.5,591.6 522.7,591.3 C523.9,591.0 528.3,603.3 530.0,604.5 C531.7,605.7 535.4,601.9 537.3,601.5 C539.2,601.1 543.7,602.4 546.1,601.5 C548.5,600.6 555.6,595.9 557.8,594.2 C560.0,592.5 563.5,588.8 565.2,586.9 C566.9,585.0 570.6,578.5 572.5,577.5 C574.4,576.5 579.2,579.0 581.3,578.7 C583.4,578.4 588.0,576.0 590.1,575.2 C592.2,574.4 597.0,572.4 599.1,571.8 C601.2,571.2 606.1,570.5 608.2,570.3 C610.3,570.1 615.4,570.0 617.2,570.3 C619.0,570.6 621.9,573.0 623.3,572.7 C624.7,572.4 627.8,567.5 629.4,567.9 C631.0,568.2 635.3,575.1 636.9,575.7 C638.5,576.3 641.4,573.2 643.0,573.3 C644.6,573.4 648.8,575.7 650.6,576.3 C652.4,576.9 656.5,579.1 658.1,578.8 C659.7,578.5 662.4,574.4 664.2,573.9 C666.0,573.4 671.0,574.8 673.3,574.8 C675.6,574.8 681.8,574.2 683.9,573.9 C686.0,573.5 689.6,572.6 691.4,571.8 C693.2,571.0 697.2,568.3 699.0,567.2 C700.8,566.1 704.8,562.0 706.6,562.7 C708.4,563.4 712.4,570.4 714.1,573.3 C715.8,576.2 719.2,586.5 720.8,587.8 C722.4,589.1 726.0,584.5 727.7,584.8 C729.4,585.1 733.4,588.9 735.3,590.0 C737.2,591.1 742.3,593.3 744.4,593.9 C746.5,594.5 751.4,594.8 753.5,595.1 C755.6,595.4 760.8,597.1 762.6,596.3 C764.4,595.5 766.8,589.8 768.6,588.4 C770.4,587.0 775.1,586.1 777.7,583.9 C780.3,581.7 788.5,570.1 791.3,569.7 C794.1,569.4 799.6,579.1 801.9,580.9 C804.2,582.7 808.9,584.0 811.0,585.4 C813.1,586.8 819.0,592.1 820.1,593.0" fill="none" stroke="#8ca2de" stroke-width="1.4"/>
<path d="M20.3,561.4 C23.5,562.0 31.2,563.7 39.3,564.9 C47.3,566.1 58.8,566.8 68.6,568.4 C78.4,570.0 88.6,572.8 97.9,574.6 C107.2,576.4 117.0,579.0 124.3,579.0 C131.6,579.0 135.5,576.5 141.8,574.6 C148.2,572.7 156.5,569.9 162.4,567.8 C168.3,565.7 172.8,563.2 177.0,562.0 C181.2,560.8 183.4,560.0 187.3,560.5 C191.2,561.0 195.8,562.7 200.4,564.9 C205.0,567.1 209.7,570.3 215.1,573.7 C220.5,577.1 226.8,581.5 232.7,585.4 C238.6,589.3 244.9,594.3 250.3,597.1 C255.7,599.9 260.8,601.1 264.9,602.1 C269.0,603.1 271.3,603.9 275.2,603.3 C279.1,602.7 284.2,600.4 288.3,598.6 C292.4,596.8 296.1,595.1 300.0,592.7 C303.9,590.3 306.8,586.5 311.7,584.0 C316.6,581.5 323.4,579.6 329.3,578.0 C335.2,576.4 341.0,575.3 346.9,574.6 C352.8,573.9 359.6,573.4 364.5,573.7 C369.4,574.0 370.8,575.5 376.2,576.6 C381.6,577.7 389.9,579.2 396.7,580.4 C403.5,581.6 410.4,582.2 417.2,584.0 C424.0,585.8 430.9,588.6 437.7,591.3 C444.5,594.0 451.8,597.4 458.2,600.1 C464.6,602.8 469.9,605.3 475.8,607.4 C481.7,609.5 488.5,611.5 493.4,612.7 C498.3,613.9 501.4,614.0 505.1,614.7 C508.8,615.4 512.5,616.9 515.4,616.8 C518.3,616.6 518.6,614.8 522.7,613.8 C526.9,612.8 534.4,612.2 540.3,610.9 C546.1,609.6 552.9,607.9 557.8,605.9 C562.7,603.9 565.7,600.9 569.6,598.6 C573.5,596.3 577.4,593.9 581.3,592.2 C585.2,590.5 589.0,590.2 593.0,588.3 C597.0,586.4 600.1,583.3 605.1,580.9 C610.1,578.5 617.8,575.3 623.3,573.9 C628.8,572.5 632.8,572.9 638.4,572.7 C644.0,572.5 650.5,572.5 656.6,572.7 C662.7,572.9 668.8,573.7 674.8,573.9 C680.8,574.1 686.8,574.2 692.9,573.9 C699.0,573.5 705.0,571.8 711.1,571.8 C717.2,571.8 723.2,572.6 729.3,573.9 C735.3,575.2 741.8,577.4 747.4,579.4 C753.0,581.4 757.8,584.2 762.6,586.0 C767.4,587.8 771.7,589.7 776.2,590.0 C780.7,590.3 785.0,588.6 789.8,587.8 C794.6,587.0 800.0,586.1 805.0,585.4 C810.0,584.6 817.6,583.6 820.1,583.3" fill="none" stroke="#ee4444" stroke-width="1.7"/>

<text x="913" y="562.7" class="ax">70</text>
<text x="913" y="595" class="ax">50</text>
<text x="913" y="627.5" class="ax">30</text>

<path d="M14.5,650.5 L14.5,641.5 L896.5,641.5 L896.5,650.5" fill="none" stroke="#acacac" stroke-width="2.6"/>
<text x="324.2" y="671.2" class="ax" text-anchor="middle">Jul 2</text>
<text x="664.5" y="671.2" class="ax" text-anchor="middle">Jul 3</text>
<text x="827.2" y="671.2" class="ax" text-anchor="middle">Jul 4</text>
<rect x="0" y="689.3" width="1024" height="2" fill="#f4f4f4"/>
<line x1="1022.5" y1="59" x2="1022.5" y2="689" stroke="#f8f8f8" stroke-width="1"/>
</g></svg>
</body></html>
